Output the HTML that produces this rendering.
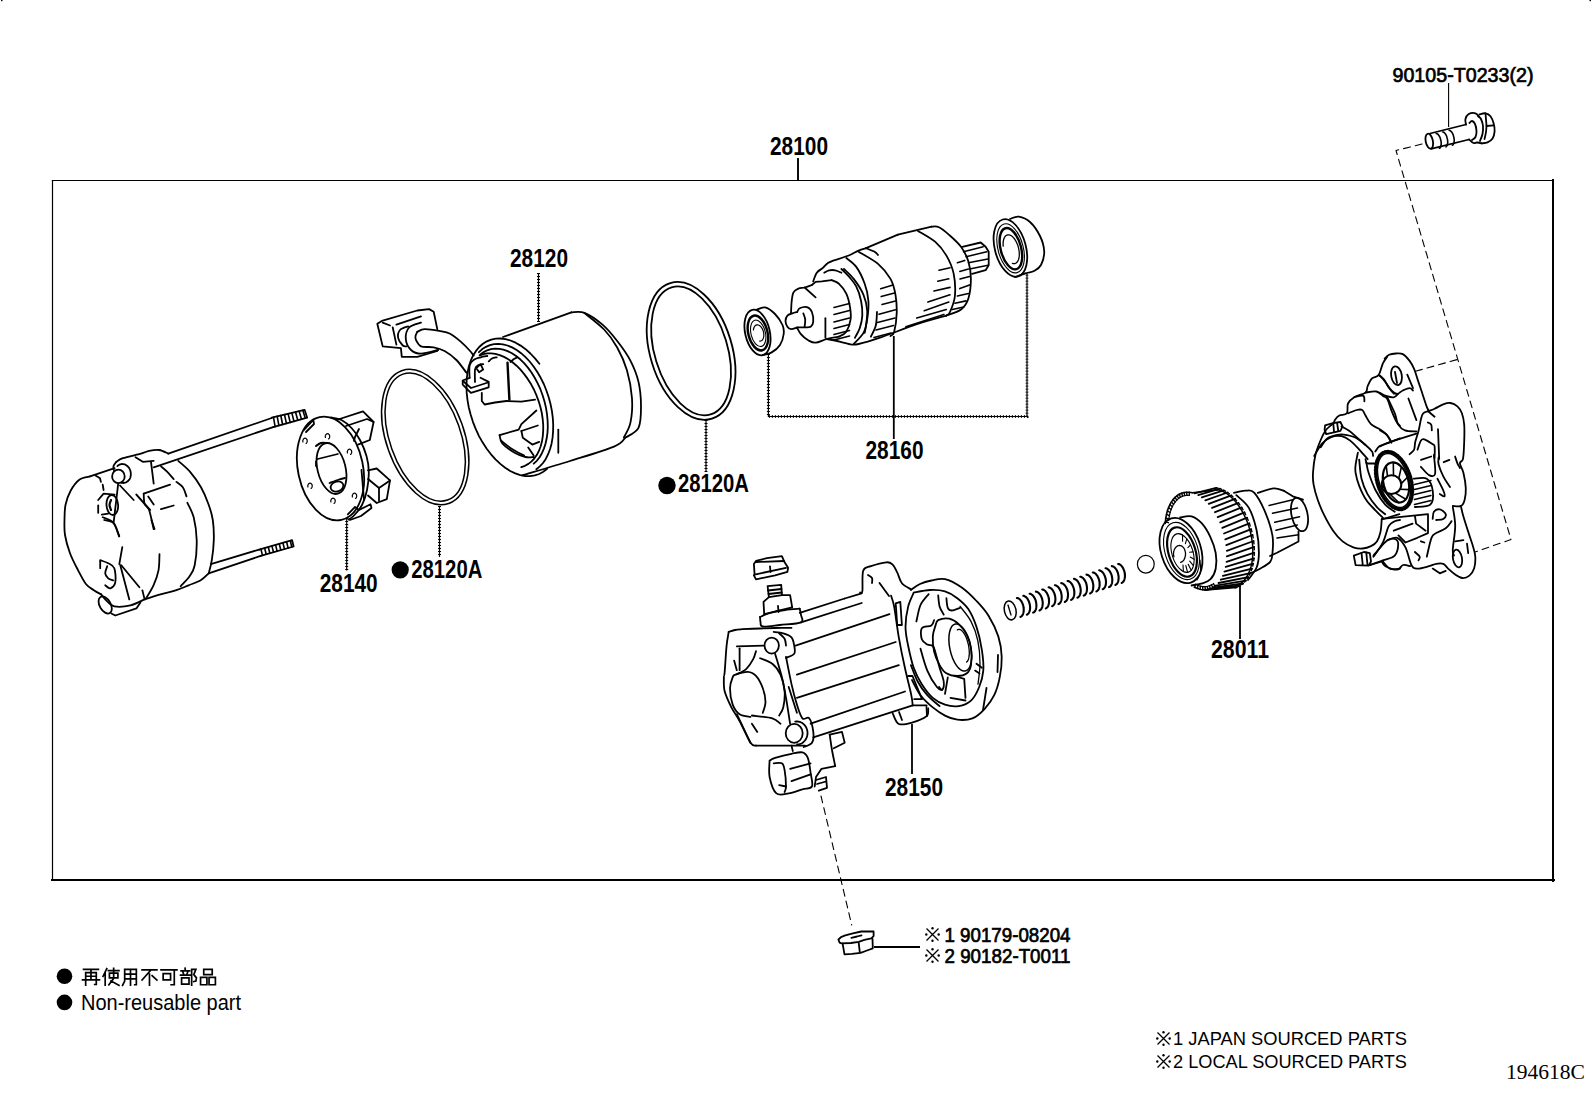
<!DOCTYPE html>
<html><head><meta charset="utf-8"><style>
html,body{margin:0;padding:0;background:#fff;}
svg{display:block;}
</style></head><body>
<svg width="1592" height="1099" viewBox="0 0 1592 1099">
<rect width="1592" height="1099" fill="#fff"/>
<g stroke="#000" fill="none" stroke-linecap="square">
<line x1="52.5" y1="180.5" x2="1553" y2="180.5" stroke-width="1.2"/>
<line x1="52.5" y1="180.5" x2="52.5" y2="880" stroke-width="1.2"/>
<line x1="1553" y1="180" x2="1553" y2="881" stroke-width="2"/>
<line x1="52" y1="880" x2="1554" y2="880" stroke-width="2"/>
</g>
<g stroke="#000" fill="none"><line x1="798" y1="158" x2="798" y2="180" stroke-width="1.9"/><path d="M538.5,273 L538.5,322" stroke-width="1.2" fill="none"/><path d="M538.5,273 L538.5,322" stroke-width="3" stroke-dasharray="0.9,2.1" fill="none"/><path d="M346.7,518 L346.7,570.5" stroke-width="1.2" fill="none"/><path d="M346.7,518 L346.7,570.5" stroke-width="3" stroke-dasharray="0.9,2.1" fill="none"/><path d="M439.5,506 L439.5,557" stroke-width="1.2" fill="none"/><path d="M439.5,506 L439.5,557" stroke-width="3" stroke-dasharray="0.9,2.1" fill="none"/><path d="M706,420 L706,472" stroke-width="1.2" fill="none"/><path d="M706,420 L706,472" stroke-width="3" stroke-dasharray="0.9,2.1" fill="none"/><line x1="1448.6" y1="83" x2="1448.6" y2="127" stroke-width="1.1"/><line x1="1240" y1="586" x2="1240" y2="639" stroke-width="1.8"/><line x1="912" y1="724" x2="912" y2="774" stroke-width="1.8"/><line x1="874" y1="947" x2="920" y2="947" stroke-width="1.8"/><path d="M768.4,354 L768.4,416.5 L1027,416.5 L1027,274" stroke-width="1.2" fill="none"/><path d="M768.4,354 L768.4,416.5 L1027,416.5 L1027,274" stroke-width="3" stroke-dasharray="0.9,2.1" fill="none"/><line x1="893.8" y1="336" x2="893.8" y2="439" stroke-width="1.8"/></g>
<g fill="#000"><text x="770" y="154.5" font-family="Liberation Sans" font-size="25.5" font-weight="bold" textLength="58" lengthAdjust="spacingAndGlyphs">28100</text><text x="510" y="267" font-family="Liberation Sans" font-size="25.5" font-weight="bold" textLength="58" lengthAdjust="spacingAndGlyphs">28120</text><text x="865.5" y="459.3" font-family="Liberation Sans" font-size="25.5" font-weight="bold" textLength="58" lengthAdjust="spacingAndGlyphs">28160</text><text x="319.7" y="592.4" font-family="Liberation Sans" font-size="25.5" font-weight="bold" textLength="58" lengthAdjust="spacingAndGlyphs">28140</text><text x="411.3" y="577.7" font-family="Liberation Sans" font-size="25.5" font-weight="bold" textLength="71" lengthAdjust="spacingAndGlyphs">28120A</text><text x="677.9" y="492" font-family="Liberation Sans" font-size="25.5" font-weight="bold" textLength="71" lengthAdjust="spacingAndGlyphs">28120A</text><text x="1211" y="657.8" font-family="Liberation Sans" font-size="25.5" font-weight="bold" textLength="58" lengthAdjust="spacingAndGlyphs">28011</text><text x="885" y="795.6" font-family="Liberation Sans" font-size="25.5" font-weight="bold" textLength="58" lengthAdjust="spacingAndGlyphs">28150</text><text x="1392.5" y="81.6" font-family="Liberation Sans" font-size="20.5" font-weight="normal" textLength="141" lengthAdjust="spacingAndGlyphs" stroke="#000" stroke-width="0.7">90105-T0233(2)</text><text x="944.5" y="941.6" font-family="Liberation Sans" font-size="20.5" font-weight="normal" textLength="126" lengthAdjust="spacingAndGlyphs" stroke="#000" stroke-width="0.7">1 90179-08204</text><text x="944.5" y="962.9" font-family="Liberation Sans" font-size="20.5" font-weight="normal" textLength="126" lengthAdjust="spacingAndGlyphs" stroke="#000" stroke-width="0.7">2 90182-T0011</text><text x="1173" y="1044.8" font-family="Liberation Sans" font-size="18" font-weight="normal" textLength="234" lengthAdjust="spacingAndGlyphs">1 JAPAN SOURCED PARTS</text><text x="1173" y="1067.7" font-family="Liberation Sans" font-size="18" font-weight="normal" textLength="234" lengthAdjust="spacingAndGlyphs">2 LOCAL SOURCED PARTS</text><text x="1506" y="1079" font-family="Liberation Serif" font-size="21" font-weight="normal" textLength="79" lengthAdjust="spacingAndGlyphs">194618C</text><text x="81" y="1009.6" font-family="Liberation Sans" font-size="21.5" font-weight="normal" textLength="160" lengthAdjust="spacingAndGlyphs">Non-reusable part</text></g>
<rect x="1" y="0" width="1.5" height="1.2" fill="#000"/><rect x="1589.5" y="0" width="1.5" height="1.2" fill="#000"/>
<g fill="#000">
<circle cx="400.2" cy="569.8" r="8.6"/>
<circle cx="667" cy="485.5" r="8.7"/>
<circle cx="64.5" cy="976.3" r="7.8"/>
<circle cx="64.5" cy="1002.4" r="7.8"/>
</g>
<g transform="translate(925,927)"><path d="M1.5,1.5 L13.5,13.5 M13.5,1.5 L1.5,13.5" stroke="#000" stroke-width="1.3" fill="none"/><circle cx="7.5" cy="1.3" r="1.2" fill="#000"/><circle cx="7.5" cy="13.7" r="1.2" fill="#000"/><circle cx="1.3" cy="7.5" r="1.2" fill="#000"/><circle cx="13.7" cy="7.5" r="1.2" fill="#000"/></g>
<g transform="translate(925,948)"><path d="M1.5,1.5 L13.5,13.5 M13.5,1.5 L1.5,13.5" stroke="#000" stroke-width="1.3" fill="none"/><circle cx="7.5" cy="1.3" r="1.2" fill="#000"/><circle cx="7.5" cy="13.7" r="1.2" fill="#000"/><circle cx="1.3" cy="7.5" r="1.2" fill="#000"/><circle cx="13.7" cy="7.5" r="1.2" fill="#000"/></g>
<g transform="translate(1156,1031)"><path d="M1.5,1.5 L13.5,13.5 M13.5,1.5 L1.5,13.5" stroke="#000" stroke-width="1.3" fill="none"/><circle cx="7.5" cy="1.3" r="1.2" fill="#000"/><circle cx="7.5" cy="13.7" r="1.2" fill="#000"/><circle cx="1.3" cy="7.5" r="1.2" fill="#000"/><circle cx="13.7" cy="7.5" r="1.2" fill="#000"/></g>
<g transform="translate(1156,1054)"><path d="M1.5,1.5 L13.5,13.5 M13.5,1.5 L1.5,13.5" stroke="#000" stroke-width="1.3" fill="none"/><circle cx="7.5" cy="1.3" r="1.2" fill="#000"/><circle cx="7.5" cy="13.7" r="1.2" fill="#000"/><circle cx="1.3" cy="7.5" r="1.2" fill="#000"/><circle cx="13.7" cy="7.5" r="1.2" fill="#000"/></g>
<path transform="translate(82.5,968.3) scale(1.06)" d="M1,1 L15,1 M3,15.8 L3,4 L13,4 L13,15.3 L11.5,15.3 M3,7.5 L13,7.5 M0,11 L16,11 M8,1 L8,11" fill="none" stroke="#000" stroke-width="1.60" stroke-linecap="square"/><path transform="translate(102,968.3) scale(1.06)" d="M4.5,0.3 L1,7.5 M3,4.5 L3,16 M6,2.2 L16,2.2 M11,0 L11,9 M7,4.5 L15,4.5 L15,9 L7,9 Z M11,9.5 L6.5,15.5 M8.5,12 L16,16" fill="none" stroke="#000" stroke-width="1.60" stroke-linecap="square"/><path transform="translate(121.5,968.3) scale(1.06)" d="M1,16 L3,12 L3,1 L14,1 L14,15.5 L12.5,15.5 M3,5.5 L14,5.5 M3,10 L14,10 M8.5,1 L8.5,16" fill="none" stroke="#000" stroke-width="1.60" stroke-linecap="square"/><path transform="translate(141,968.3) scale(1.06)" d="M1,1.5 L15,1.5 M9,2 L1,11 M8,5.5 L8,16 M10.5,7 L15,11" fill="none" stroke="#000" stroke-width="1.60" stroke-linecap="square"/><path transform="translate(160.5,968.3) scale(1.06)" d="M0.5,1.5 L15.5,1.5 M13,1.5 L13,15.5 L10,15.5 M2.5,5 L9.5,5 L9.5,11 L2.5,11 Z" fill="none" stroke="#000" stroke-width="1.60" stroke-linecap="square"/><path transform="translate(180,968.3) scale(1.06)" d="M4.8,0 L5,2 M1,2.5 L9,2.5 M2.8,3.8 L3.6,6 M7.2,3.8 L6.4,6 M0.5,6.5 L9.5,6.5 M1.5,9 L8.5,9 L8.5,15 L1.5,15 Z M11,16 L11,1 L15,1 L13,6 L15.5,9 L15,12 L13,12.5" fill="none" stroke="#000" stroke-width="1.60" stroke-linecap="square"/><path transform="translate(199.5,968.3) scale(1.06)" d="M4,1 L12,1 L12,6 L4,6 Z M1,8.5 L7,8.5 L7,15.5 L1,15.5 Z M9,8.5 L15,8.5 L15,15.5 L9,15.5 Z" fill="none" stroke="#000" stroke-width="1.60" stroke-linecap="square"/>
<g stroke="#000" fill="none" stroke-width="1.8" stroke-linejoin="round" stroke-linecap="round">
<ellipse cx="1429.3" cy="141.2" rx="3.6" ry="7.6" fill="none" transform="rotate(-12 1429.3 141.2)"/>
<line x1="1430" y1="133.5" x2="1466" y2="124.5"/>
<line x1="1431" y1="148.8" x2="1469" y2="139.5"/>
<path d="M1436.2,133.5 L1436.6,133.6 L1437,133.7 L1437.4,133.9 L1437.7,134.2 L1438.1,134.5 L1438.5,135 L1438.9,135.5 L1439.2,136 L1439.6,136.6 L1439.9,137.3 L1440.2,138 L1440.4,138.7 L1440.6,139.5 L1440.8,140.3 L1441,141.1 L1441.1,141.9 L1441.2,142.7 L1441.2,143.4 L1441.2,144.1 L1441.1,144.8 L1441,145.5 L1440.9,146.1 L1440.7,146.7 L1440.5,147.1 L1440.3,147.6 L1440,147.9 L1439.7,148.2 L1439.4,148.3" fill="none" stroke-width="1.6"/>
<path d="M1442.7,132 L1443.1,132 L1443.5,132.1 L1443.9,132.3 L1444.2,132.6 L1444.6,133 L1445,133.4 L1445.4,133.9 L1445.7,134.5 L1446.1,135.1 L1446.4,135.7 L1446.7,136.4 L1446.9,137.2 L1447.1,138 L1447.3,138.7 L1447.5,139.5 L1447.6,140.3 L1447.7,141.1 L1447.7,141.9 L1447.7,142.6 L1447.6,143.3 L1447.5,143.9 L1447.4,144.5 L1447.2,145.1 L1447,145.6 L1446.8,146 L1446.5,146.3 L1446.2,146.6 L1445.9,146.8" fill="none" stroke-width="1.6"/>
<path d="M1449.2,130.4 L1449.6,130.4 L1450,130.6 L1450.4,130.8 L1450.7,131.1 L1451.1,131.4 L1451.5,131.8 L1451.9,132.3 L1452.2,132.9 L1452.6,133.5 L1452.9,134.2 L1453.2,134.9 L1453.4,135.6 L1453.6,136.4 L1453.8,137.2 L1454,138 L1454.1,138.8 L1454.2,139.5 L1454.2,140.3 L1454.2,141 L1454.1,141.7 L1454,142.4 L1453.9,143 L1453.7,143.5 L1453.5,144 L1453.3,144.4 L1453,144.8 L1452.7,145 L1452.4,145.2" fill="none" stroke-width="1.6"/>
<path d="M1466,124.5 C1465.9,123.6 1465,121 1465.4,119.3 C1465.8,117.6 1466.7,115.3 1468.4,114.3 C1470.1,113.3 1473.7,112.8 1475.5,113.3 C1477.3,113.8 1478.8,116.6 1479.5,117.3" fill="none"/>
<path d="M1469.4,123 C1469.8,122.7 1471.1,120.8 1472,121 C1472.9,121.2 1474.2,122.3 1475,124 C1475.8,125.7 1476.4,128.8 1476.5,131 C1476.6,133.2 1476.2,135.5 1475.5,137 C1474.8,138.5 1472.6,139.5 1472,140" fill="none"/>
<path d="M1469,139.5 C1469.8,140.1 1472.2,142.5 1473.5,143 C1474.8,143.5 1475.7,142.4 1477,142.5 C1478.3,142.6 1480.8,143.2 1481.5,143.4" fill="none"/>
<path d="M1479.5,114.3 C1480.5,114.1 1483.7,113 1485.5,113.3 C1487.3,113.6 1489.2,114.6 1490.5,116.3 C1491.8,118 1492.9,120.8 1493.6,123.3 C1494.3,125.8 1494.8,128.9 1494.6,131.4 C1494.4,133.9 1493.8,136.6 1492.6,138.4 C1491.4,140.2 1489.3,141.6 1487.5,142.4 C1485.7,143.2 1482.5,143.2 1481.5,143.4" fill="none"/>
<line x1="1485.5" y1="113.5" x2="1486.5" y2="125.5"/>
<line x1="1486.5" y1="126" x2="1493.6" y2="125.4"/>
<path d="M1486.5,126 C1486.4,127 1486.3,129.8 1486,132 C1485.7,134.2 1484.8,137.8 1484.5,139" fill="none"/>
<path d="M1478,116 C1478.5,116.5 1480.2,117.3 1481,119 C1481.8,120.7 1482.8,123.5 1483,126 C1483.2,128.5 1483,131.5 1482.5,134 C1482,136.5 1480.4,139.8 1480,141" fill="none"/>
<path d="M1422,144 L1396,150.5 L1511,539.5 L1475,552" stroke-dasharray="7,5" stroke-width="1.1"/>
<path d="M1415.5,371.3 L1458,359.3" stroke-dasharray="7,5" stroke-width="1.1"/>
<ellipse cx="425.2" cy="437.1" rx="39" ry="70.4" fill="none" transform="rotate(-19.5 425.2 437.1)" stroke-width="1.5"/>
<ellipse cx="425.2" cy="437.1" rx="35.4" ry="66.8" fill="none" transform="rotate(-19.5 425.2 437.1)" stroke-width="1.5"/>
<ellipse cx="691.1" cy="350.9" rx="40.9" ry="70.9" fill="none" transform="rotate(-17.1 691.1 350.9)"/>
<ellipse cx="691.1" cy="350.9" rx="36.4" ry="66.4" fill="none" transform="rotate(-17.1 691.1 350.9)"/>
<ellipse cx="757.5" cy="332.5" rx="12.3" ry="23.2" fill="none" transform="rotate(-13 757.5 332.5)"/>
<path d="M756.4,309.8 C757.9,309.4 762,306.7 765.1,307.4 C768.2,308.1 772.1,311.1 775,314 C777.9,316.9 781,321.7 782.5,325 C784,328.3 784.1,330.7 783.7,334 C783.3,337.3 782,341.9 780,345 C778,348.1 774.6,350.7 771.7,352.4 C768.9,354.1 764.4,354.7 762.9,355.2" fill="none"/>
<ellipse cx="757.9" cy="333" rx="9.6" ry="17.8" fill="none" transform="rotate(-14 757.9 333)" stroke-width="2.4"/>
<ellipse cx="758.2" cy="333.3" rx="7.2" ry="13.5" fill="none" transform="rotate(-14 758.2 333.3)" stroke-width="1.1"/>
<path d="M753.4,330 L753.5,329.2 L753.7,328.5 L753.9,327.8 L754.1,327.2 L754.5,326.6 L754.8,326.1 L755.2,325.7 L755.7,325.3 L756.2,325.1 L756.7,324.9 L757.2,324.9 L757.8,324.9 L758.3,325 L758.9,325.2 L759.4,325.5 L760,325.9 L760.5,326.3 L761,326.9 L761.5,327.5 L761.9,328.1 L762.3,328.9 L762.7,329.6 L763,330.4 L763.3,331.3 L763.5,332.1 L763.7,333 L763.8,333.9 L763.8,334.7 L763.8,335.6 L763.8,336.4 L763.6,337.1 L763.4,337.9 L763.2,338.5 L762.9,339.1 L762.6,339.7 L762.2,340.1 L761.8,340.5 L761.3,340.8 L760.8,341 L760.3,341.1 L759.7,341.1" fill="none" stroke-width="1.2"/>
<ellipse cx="1010.4" cy="248" rx="15.5" ry="29.5" fill="none" transform="rotate(-15 1010.4 248)"/>
<path d="M1010.2,218.9 C1011.6,218.5 1015.4,216.1 1018.7,216.6 C1022,217.1 1026.5,218.8 1030,222 C1033.5,225.2 1037.6,231.1 1040,236 C1042.4,240.9 1044,246.6 1044.2,251.4 C1044.4,256.2 1042.7,261.7 1041,265 C1039.3,268.3 1036.4,269.6 1034,271 C1031.6,272.4 1029.6,272.1 1026.4,273.1 C1023.2,274.1 1016.7,276.4 1014.8,277" fill="none"/>
<ellipse cx="1010.6" cy="248.3" rx="12.6" ry="25.2" fill="none" transform="rotate(-15 1010.6 248.3)" stroke-width="1.1"/>
<ellipse cx="1010.9" cy="248.7" rx="10.2" ry="21.2" fill="none" transform="rotate(-15 1010.9 248.7)" stroke-width="2.4"/>
<path d="M1003.2,246.1 L1003.1,244.7 L1003.1,243.2 L1003.2,241.9 L1003.4,240.6 L1003.7,239.5 L1004,238.4 L1004.5,237.5 L1005,236.7 L1005.5,236 L1006.2,235.5 L1006.9,235.1 L1007.6,234.8 L1008.4,234.8 L1009.2,234.9 L1010,235.1 L1010.9,235.5 L1011.7,236.1 L1012.6,236.8 L1013.4,237.6 L1014.2,238.5 L1015,239.6 L1015.7,240.8 L1016.4,242.1 L1017,243.4 L1017.6,244.8 L1018.1,246.3 L1018.5,247.8 L1018.8,249.3 L1019.1,250.8 L1019.2,252.3 L1019.3,253.7 L1019.3,255.2 L1019.2,256.5 L1019,257.8 L1018.7,258.9 L1018.4,260 L1017.9,260.9 L1017.4,261.7 L1016.9,262.4 L1016.2,262.9 L1015.5,263.3 L1014.8,263.6 L1014,263.6 L1013.2,263.5 L1012.4,263.3" fill="none" stroke-width="1.3"/>
<ellipse cx="1010.2" cy="610.4" rx="5.8" ry="9.6" fill="none" transform="rotate(-12 1010.2 610.4)" stroke-width="1.5"/>
<line x1="1008" y1="605" x2="1011" y2="615" stroke-width="1.3"/>
<path d="M1016.9,598 L1017.6,598.1 L1018.2,598.3 L1018.8,598.6 L1019.4,599 L1020,599.5 L1020.5,600.2 L1021.1,600.9 L1021.6,601.6 L1022,602.5 L1022.4,603.3 L1022.8,604.3 L1023.1,605.3 L1023.4,606.3 L1023.5,607.3 L1023.7,608.3 L1023.7,609.3 L1023.7,610.3 L1023.7,611.3 L1023.5,612.2 L1023.3,613 L1023.1,613.8 L1022.8,614.6 L1022.4,615.2 L1022,615.8 L1021.5,616.2 L1021,616.6 L1020.5,616.9" fill="none" stroke-width="2.1"/>
<path d="M1023.3,595.8 L1023.9,595.9 L1024.5,596.2 L1025.1,596.5 L1025.7,596.9 L1026.3,597.4 L1026.9,598 L1027.4,598.7 L1027.9,599.5 L1028.3,600.3 L1028.8,601.2 L1029.1,602.2 L1029.4,603.1 L1029.7,604.1 L1029.9,605.2 L1030,606.2 L1030.1,607.2 L1030.1,608.2 L1030,609.1 L1029.9,610 L1029.7,610.9 L1029.4,611.7 L1029.1,612.4 L1028.7,613.1 L1028.3,613.6 L1027.8,614.1 L1027.3,614.5 L1026.8,614.7" fill="none" stroke-width="2.1"/>
<path d="M1029.6,593.7 L1030.2,593.8 L1030.8,594 L1031.4,594.4 L1032,594.8 L1032.6,595.3 L1033.2,595.9 L1033.7,596.6 L1034.2,597.4 L1034.7,598.2 L1035.1,599.1 L1035.5,600 L1035.8,601 L1036,602 L1036.2,603 L1036.3,604 L1036.4,605.1 L1036.4,606 L1036.3,607 L1036.2,607.9 L1036,608.8 L1035.7,609.6 L1035.4,610.3 L1035.1,611 L1034.6,611.5 L1034.2,612 L1033.7,612.3 L1033.1,612.6" fill="none" stroke-width="2.1"/>
<path d="M1035.9,591.6 L1036.5,591.7 L1037.1,591.9 L1037.8,592.2 L1038.4,592.7 L1038.9,593.2 L1039.5,593.8 L1040,594.5 L1040.5,595.2 L1041,596.1 L1041.4,597 L1041.8,597.9 L1042.1,598.9 L1042.3,599.9 L1042.5,600.9 L1042.7,601.9 L1042.7,602.9 L1042.7,603.9 L1042.6,604.9 L1042.5,605.8 L1042.3,606.7 L1042.1,607.5 L1041.7,608.2 L1041.4,608.8 L1041,609.4 L1040.5,609.8 L1040,610.2 L1039.5,610.5" fill="none" stroke-width="2.1"/>
<path d="M1042.2,589.5 L1042.9,589.6 L1043.5,589.8 L1044.1,590.1 L1044.7,590.5 L1045.3,591 L1045.8,591.7 L1046.4,592.4 L1046.9,593.1 L1047.3,594 L1047.7,594.8 L1048.1,595.8 L1048.4,596.8 L1048.7,597.8 L1048.8,598.8 L1049,599.8 L1049,600.8 L1049,601.8 L1049,602.8 L1048.8,603.7 L1048.6,604.5 L1048.4,605.3 L1048.1,606.1 L1047.7,606.7 L1047.3,607.3 L1046.8,607.7 L1046.3,608.1 L1045.8,608.4" fill="none" stroke-width="2.1"/>
<path d="M1048.6,587.3 L1049.2,587.4 L1049.8,587.7 L1050.4,588 L1051,588.4 L1051.6,588.9 L1052.2,589.5 L1052.7,590.2 L1053.2,591 L1053.6,591.8 L1054.1,592.7 L1054.4,593.7 L1054.7,594.6 L1055,595.6 L1055.2,596.7 L1055.3,597.7 L1055.4,598.7 L1055.4,599.7 L1055.3,600.6 L1055.2,601.5 L1055,602.4 L1054.7,603.2 L1054.4,603.9 L1054,604.6 L1053.6,605.1 L1053.1,605.6 L1052.6,606 L1052.1,606.2" fill="none" stroke-width="2.1"/>
<path d="M1054.9,585.2 L1055.5,585.3 L1056.1,585.5 L1056.7,585.9 L1057.3,586.3 L1057.9,586.8 L1058.5,587.4 L1059,588.1 L1059.5,588.9 L1060,589.7 L1060.4,590.6 L1060.8,591.5 L1061.1,592.5 L1061.3,593.5 L1061.5,594.5 L1061.6,595.5 L1061.7,596.6 L1061.7,597.5 L1061.6,598.5 L1061.5,599.4 L1061.3,600.3 L1061,601.1 L1060.7,601.8 L1060.4,602.5 L1059.9,603 L1059.5,603.5 L1059,603.8 L1058.4,604.1" fill="none" stroke-width="2.1"/>
<path d="M1061.2,583.1 L1061.8,583.2 L1062.4,583.4 L1063.1,583.7 L1063.7,584.2 L1064.2,584.7 L1064.8,585.3 L1065.3,586 L1065.8,586.7 L1066.3,587.6 L1066.7,588.5 L1067.1,589.4 L1067.4,590.4 L1067.6,591.4 L1067.8,592.4 L1068,593.4 L1068,594.4 L1068,595.4 L1067.9,596.4 L1067.8,597.3 L1067.6,598.2 L1067.4,599 L1067,599.7 L1066.7,600.3 L1066.3,600.9 L1065.8,601.3 L1065.3,601.7 L1064.8,602" fill="none" stroke-width="2.1"/>
<path d="M1067.5,581 L1068.2,581.1 L1068.8,581.3 L1069.4,581.6 L1070,582 L1070.6,582.5 L1071.1,583.2 L1071.7,583.9 L1072.2,584.6 L1072.6,585.5 L1073,586.3 L1073.4,587.3 L1073.7,588.3 L1074,589.3 L1074.1,590.3 L1074.3,591.3 L1074.3,592.3 L1074.3,593.3 L1074.3,594.3 L1074.1,595.2 L1073.9,596 L1073.7,596.8 L1073.4,597.6 L1073,598.2 L1072.6,598.8 L1072.1,599.2 L1071.6,599.6 L1071.1,599.9" fill="none" stroke-width="2.1"/>
<path d="M1073.9,578.8 L1074.5,578.9 L1075.1,579.2 L1075.7,579.5 L1076.3,579.9 L1076.9,580.4 L1077.5,581 L1078,581.7 L1078.5,582.5 L1078.9,583.3 L1079.4,584.2 L1079.7,585.2 L1080,586.1 L1080.3,587.1 L1080.5,588.2 L1080.6,589.2 L1080.7,590.2 L1080.7,591.2 L1080.6,592.1 L1080.5,593 L1080.3,593.9 L1080,594.7 L1079.7,595.4 L1079.3,596.1 L1078.9,596.6 L1078.4,597.1 L1077.9,597.5 L1077.4,597.7" fill="none" stroke-width="2.1"/>
<path d="M1080.2,576.7 L1080.8,576.8 L1081.4,577 L1082,577.4 L1082.6,577.8 L1083.2,578.3 L1083.8,578.9 L1084.3,579.6 L1084.8,580.4 L1085.3,581.2 L1085.7,582.1 L1086.1,583 L1086.4,584 L1086.6,585 L1086.8,586 L1086.9,587 L1087,588.1 L1087,589 L1086.9,590 L1086.8,590.9 L1086.6,591.8 L1086.3,592.6 L1086,593.3 L1085.7,594 L1085.2,594.5 L1084.8,595 L1084.3,595.3 L1083.7,595.6" fill="none" stroke-width="2.1"/>
<path d="M1086.5,574.6 L1087.1,574.7 L1087.7,574.9 L1088.4,575.2 L1089,575.7 L1089.5,576.2 L1090.1,576.8 L1090.6,577.5 L1091.1,578.2 L1091.6,579.1 L1092,580 L1092.4,580.9 L1092.7,581.9 L1092.9,582.9 L1093.1,583.9 L1093.3,584.9 L1093.3,585.9 L1093.3,586.9 L1093.2,587.9 L1093.1,588.8 L1092.9,589.7 L1092.7,590.5 L1092.3,591.2 L1092,591.8 L1091.6,592.4 L1091.1,592.8 L1090.6,593.2 L1090.1,593.5" fill="none" stroke-width="2.1"/>
<path d="M1092.8,572.5 L1093.5,572.6 L1094.1,572.8 L1094.7,573.1 L1095.3,573.5 L1095.9,574 L1096.4,574.7 L1097,575.4 L1097.5,576.1 L1097.9,577 L1098.3,577.8 L1098.7,578.8 L1099,579.8 L1099.3,580.8 L1099.4,581.8 L1099.6,582.8 L1099.6,583.8 L1099.6,584.8 L1099.6,585.8 L1099.4,586.7 L1099.2,587.5 L1099,588.3 L1098.7,589.1 L1098.3,589.7 L1097.9,590.3 L1097.4,590.7 L1096.9,591.1 L1096.4,591.4" fill="none" stroke-width="2.1"/>
<path d="M1099.2,570.3 L1099.8,570.4 L1100.4,570.7 L1101,571 L1101.6,571.4 L1102.2,571.9 L1102.8,572.5 L1103.3,573.2 L1103.8,574 L1104.2,574.8 L1104.7,575.7 L1105,576.7 L1105.3,577.6 L1105.6,578.6 L1105.8,579.7 L1105.9,580.7 L1106,581.7 L1106,582.7 L1105.9,583.6 L1105.8,584.5 L1105.6,585.4 L1105.3,586.2 L1105,586.9 L1104.6,587.6 L1104.2,588.1 L1103.7,588.6 L1103.2,589 L1102.7,589.2" fill="none" stroke-width="2.1"/>
<path d="M1105.5,568.2 L1106.1,568.3 L1106.7,568.5 L1107.3,568.9 L1107.9,569.3 L1108.5,569.8 L1109.1,570.4 L1109.6,571.1 L1110.1,571.9 L1110.6,572.7 L1111,573.6 L1111.4,574.5 L1111.7,575.5 L1111.9,576.5 L1112.1,577.5 L1112.2,578.5 L1112.3,579.6 L1112.3,580.5 L1112.2,581.5 L1112.1,582.4 L1111.9,583.3 L1111.6,584.1 L1111.3,584.8 L1111,585.5 L1110.5,586 L1110.1,586.5 L1109.6,586.8 L1109,587.1" fill="none" stroke-width="2.1"/>
<path d="M1111.8,566.1 L1112.4,566.2 L1113,566.4 L1113.7,566.7 L1114.3,567.2 L1114.8,567.7 L1115.4,568.3 L1115.9,569 L1116.4,569.7 L1116.9,570.6 L1117.3,571.5 L1117.7,572.4 L1118,573.4 L1118.2,574.4 L1118.4,575.4 L1118.6,576.4 L1118.6,577.4 L1118.6,578.4 L1118.5,579.4 L1118.4,580.3 L1118.2,581.2 L1118,582 L1117.6,582.7 L1117.3,583.3 L1116.9,583.9 L1116.4,584.3 L1115.9,584.7 L1115.4,585" fill="none" stroke-width="2.1"/>
<path d="M1118.1,564 L1118.8,564.1 L1119.4,564.3 L1120,564.6 L1120.6,565 L1121.2,565.5 L1121.7,566.2 L1122.3,566.9 L1122.8,567.6 L1123.2,568.5 L1123.6,569.3 L1124,570.3 L1124.3,571.3 L1124.6,572.3 L1124.7,573.3 L1124.9,574.3 L1124.9,575.3 L1124.9,576.3 L1124.9,577.3 L1124.7,578.2 L1124.5,579 L1124.3,579.8 L1124,580.6 L1123.6,581.2 L1123.2,581.8 L1122.7,582.2 L1122.2,582.6 L1121.7,582.9" fill="none" stroke-width="2.1"/>
<ellipse cx="1145.8" cy="564.2" rx="8.4" ry="8.9" fill="none" stroke-width="1.2"/>
<path d="M839.6,942.6 L838.4,939.5 L841.5,936.8 L845.3,935.3 L852.9,933.4 L861.3,931.5 L873.6,931.5 L873.6,936.1 L871.3,938.3 L864.4,939.9 L858.7,941.8 L851,943 L841.5,943.3 L839.6,942.6" fill="none"/>
<path d="M851.4,937.8 L857,936.5 L861.5,935.3" fill="none"/>
<path d="M842.6,943.7 L844.5,954.4 L852,953.8 L860.6,952.9 L867,950.5 L872.8,948.3 L872.5,939" fill="none"/>
<line x1="858.7" y1="942.9" x2="859.8" y2="952.1"/>
<path d="M821,796 L851.7,925" stroke-dasharray="7,5" stroke-width="1.1"/>
<line x1="503" y1="337" x2="571.4" y2="312.3"/>
<path d="M522.2,475.3 C530.2,472.9 554.7,465.8 570,461 C585.3,456.2 604.8,450.5 614,446.6 C623.2,442.7 623.5,439.1 625.4,437.6" fill="none"/>
<path d="M571.4,312.3 C573.6,312.4 579.3,310.8 584.5,312.8 C589.7,314.9 597,319.9 602.5,324.6 C608,329.3 612.6,335 617.2,341 C621.9,347 626.9,353.8 630.4,360.6 C633.9,367.4 636.7,374.2 638.5,381.9 C640.3,389.5 641,398.9 641,406.5 C641,414.1 641.1,422.6 638.5,427.8 C635.9,433 627.6,436 625.4,437.6" fill="none"/>
<path d="M584.5,313.1 C587.8,315.8 598.6,323.8 604.1,329.5 C609.6,335.2 613.4,340.7 617.2,347.5 C621,354.3 624.5,361.9 627,370.4 C629.5,378.9 631.4,389.6 632,398.3 C632.6,407.1 631.8,416.3 630.4,422.9 C629,429.4 624.9,435.2 623.8,437.6" fill="none"/>
<path d="M539.4,363.8 L535,358.4 L530.4,353.5 L525.6,349.2 L520.6,345.6 L515.6,342.7 L510.5,340.5 L505.5,339.1 L500.5,338.5 L495.8,338.7 L491.2,339.6 L486.9,341.3 L482.9,343.8 L479.2,347 L476,350.9 L473.1,355.4 L470.8,360.6 L468.9,366.2 L467.6,372.4 L466.7,378.9 L466.5,385.8 L466.7,392.9 L467.5,400.1 L468.8,407.5 L470.7,414.8 L473,422.1 L475.8,429.2 L479,436.1 L482.7,442.6 L486.7,448.7 L491,454.3 L495.5,459.4 L500.3,463.9 L505.2,467.8 L510.2,471 L515.3,473.4 L520.3,475.1 L525.3,476 L530.1,476.1 L534.8,475.4 L539.2,474 L543.3,471.8 L547.1,468.8" fill="none"/>
<line x1="558.3" y1="429.6" x2="558.3" y2="452.8"/>
<path d="M478.9,352.2 L482.3,349.1 L486,346.8 L489.9,345.1 L494.1,344.1 L498.5,343.8 L502.9,344.3 L507.5,345.5 L512.1,347.4 L516.7,350 L521.1,353.2 L525.5,357.1 L529.7,361.5 L533.6,366.5 L537.3,372 L540.7,377.8 L543.8,384 L546.4,390.5 L548.7,397.2 L550.5,404 L551.9,410.9 L552.8,417.8 L553.2,424.5 L553.1,431.1 L552.6,437.4 L551.6,443.4 L550.1,449 L548.1,454.2 L545.8,458.9 L543,463 L539.8,466.4 L536.4,469.3" fill="none"/>
<path d="M480.3,354.5 L483.7,352.1 L487.2,350.3 L491,349.1 L495,348.6 L499.2,348.8 L503.4,349.6 L507.6,351.1 L511.9,353.3 L516.1,356 L520.2,359.3 L524.1,363.2 L527.9,367.6 L531.5,372.5 L534.7,377.7 L537.7,383.3 L540.4,389.2 L542.6,395.3 L544.5,401.5 L546,407.9 L547,414.2 L547.6,420.5 L547.8,426.6 L547.5,432.6 L546.7,438.3 L545.5,443.7 L543.9,448.6 L541.9,453.2 L539.6,457.2 L536.8,460.8 L533.7,463.7" fill="none"/>
<path d="M479.6,355.4 L483.3,354.1 L487.2,353.4 L491.3,353.3 L495.4,353.9 L499.7,355.1 L504,356.9 L508.3,359.3 L512.5,362.2 L516.6,365.7 L520.5,369.7 L524.2,374.1 L527.7,378.9 L531,384.1 L533.9,389.5 L536.4,395.2 L538.6,401.1 L540.4,407 L541.8,413 L542.7,419 L543.2,424.9 L543.2,430.6 L542.8,436.1 L542,441.3 L540.7,446.2 L539,450.7 L536.9,454.8 L534.4,458.3 L531.6,461.4 L528.4,463.9 L525,465.8 L521.3,467.1" fill="none"/>
<path d="M481.8,392.8 L481.8,401 L484.6,404.5 L495,402.5 L506.4,401 L521.4,401.7 L535.1,399.6" fill="none"/>
<line x1="507.5" y1="362.8" x2="509.4" y2="399.6" stroke-width="2.4"/>
<path d="M510.5,362 C511.1,361.5 512.9,359.8 514,359 C515.1,358.2 516.5,357.8 517,357.5" fill="none"/>
<path d="M488.7,361.4 C489.2,360.9 490.6,359.2 492,358.5 C493.4,357.8 496,357.5 496.8,357.3" fill="none"/>
<path d="M499.6,435.1 L518.7,429.6 L521.4,424.2 L536.4,410.5" fill="none"/>
<path d="M499.6,435.1 C500.1,436.5 499.8,440.4 502.3,443.3 C504.8,446.2 510.7,450.5 514.6,452.8 C518.5,455.1 522.3,456.3 525.5,457 C528.7,457.7 532.3,457 533.7,457" fill="none"/>
<path d="M500.9,440.5 C502.8,441.9 508.1,446.5 512,449 C515.9,451.5 522.1,454.5 524.1,455.6" fill="none"/>
<path d="M521.4,431 L537.8,425.5" fill="none"/>
<path d="M521.4,431 L522.8,437.8 L532.3,444.6 L539.2,441.9" fill="none"/>
<path d="M528.2,447.4 L533.7,455.6" fill="none"/>
<path d="M469.6,377.8 L462.7,380.5 L462.7,384.6 L470.9,392.8 L488.7,387.3 L488.7,381.9 L480.5,377.8" fill="none"/>
<path d="M463.5,381.5 L471,388 L488,382.5" fill="none"/>
<path d="M469.6,377.8 C469.6,375.8 468.9,368.5 469.6,365.5 C470.3,362.5 471.8,361.4 473.6,360 C475.4,358.6 478.2,358 480.5,357.3 C482.8,356.6 486.2,356.2 487.3,356" fill="none"/>
<path d="M475,381.9 C475,379.8 474.6,372.3 475,369.6 C475.4,366.9 476.3,366.4 477.7,365.5 C479.1,364.6 482.3,364.3 483.2,364.1" fill="none"/>
<path d="M476.4,368.2 L480.5,364.1 L483.2,369.6 L479.1,372.3 L476.4,368.2" fill="none"/>
<path d="M417.3,331.8 C418.5,331.4 421,329.2 424.6,329.1 C428.2,329 434.9,330.1 439.2,330.9 C443.4,331.7 446.5,331.9 450.1,333.7 C453.7,335.5 457.7,339 461,341.9 C464.3,344.8 468,348.7 470.1,351 C472.2,353.3 473.1,354.8 473.7,355.5" fill="none"/>
<path d="M417.3,331.8 C417,332.5 415.7,334.6 415.5,336 C415.3,337.4 415.1,338.3 416,340 C416.9,341.7 418.1,345.2 421,346.4 C423.9,347.6 429.8,346.5 433.7,347.3 C437.6,348.1 440.8,348.9 444.6,351 C448.4,353.1 452.8,356.4 456.4,360 C460,363.6 464.8,370.7 466.5,372.8" fill="none"/>
<path d="M437.3,329.1 L433.7,311.8 L429.1,309.1 L417.3,310.5 L381.8,320.9 L377.3,323.7 L382.7,346.4 L400.9,348.2 L401.8,356.9 L417.3,356.9 L437.3,351" fill="none"/>
<path d="M382.7,322.7 L390,325.5" fill="none"/>
<path d="M396.4,324.6 L421,316.4" fill="none"/>
<path d="M392.7,327.3 L396.4,344.6" fill="none"/>
<path d="M408.2,326.4 C406.8,327 401.7,328 400,330 C398.3,332 397.7,335.6 398.2,338.2 C398.7,340.8 401.4,344.1 402.8,345.5 C404.2,346.9 405.8,346.2 406.4,346.4" fill="none"/>
<path d="M421,322.7 C419,323.5 411.6,324.8 409.1,327.5 C406.6,330.2 405.5,335.4 405.8,339.1 C406.1,342.9 408.5,347.6 411,350 C413.5,352.4 416.5,353.7 421,353.7 C425.5,353.7 435.3,350.6 438.2,350" fill="none"/>
<path d="M90,476.4 C88.3,476.9 82.8,477.1 79.6,479.5 C76.3,481.9 72.8,486.8 70.5,491 C68.2,495.2 66.5,500.2 65.5,505 C64.5,509.8 64.6,515 64.5,520 C64.4,525 64.1,529.5 65,535 C65.9,540.5 67.8,547.3 70,553.2 C72.2,559.1 75.4,565.1 78.1,570.3 C80.8,575.5 83.4,580.9 86.1,584.3 C88.8,587.6 91.7,588.7 94.2,590.4 C96.7,592.1 100,593.7 101.2,594.4" fill="none"/>
<line x1="90" y1="476.4" x2="114.6" y2="468.2"/>
<ellipse cx="105.2" cy="605" rx="5.5" ry="9.3" fill="none" transform="rotate(-30 105.2 605)"/>
<path d="M101.2,594.4 C102.2,595.6 105,599.4 107.2,601.4 C109.4,603.4 110.4,605.7 114.3,606.4 C118.2,607.1 125.4,606.6 130.4,605.4 C135.4,604.2 142.1,600.4 144.4,599.4" fill="none"/>
<path d="M111.3,613.5 L115.3,615.5 L136.4,608.4 L140.4,602.4" fill="none"/>
<path d="M144.4,599.4 C147.1,598.6 155.3,595.9 160.5,594.4 C165.7,592.9 170.9,591.9 175.6,590.4 C180.3,588.9 184.4,587 188.6,585.3 C192.8,583.6 197.3,582.3 200.7,580.3 C204,578.3 207.4,574.5 208.7,573.3" fill="none"/>
<path d="M178.3,460.9 C180.3,462.7 186.3,467.4 190.1,471.8 C193.9,476.2 198,482 201,487.3 C204,492.6 206.3,498.2 208.3,503.7 C210.3,509.1 211.9,513.9 212.8,520 C213.7,526.1 214,533.4 213.8,540.1 C213.6,546.8 212.7,554.7 211.8,560.2 C211,565.7 209.2,571.1 208.7,573.3" fill="none"/>
<path d="M176.4,481.9 C177.5,482.8 181.1,484.9 182.8,487.3 C184.5,489.7 185.9,494.9 186.5,496.4" fill="none"/>
<path d="M187.4,502.8 C188.4,505.2 192.1,511.1 193.7,517.3 C195.2,523.5 196.5,532.1 196.7,540.1 C196.9,548.1 195.9,559.2 194.7,565.2 C193.5,571.2 191.9,572.8 189.6,576.3 C187.2,579.8 182.1,584.6 180.6,586.3" fill="none"/>
<path d="M161,466.4 C162.1,467.3 165.2,469.7 167.3,471.8 C169.4,473.9 172.6,477.9 173.7,479.1" fill="none"/>
<path d="M116.4,461.8 C117.5,461.2 118.7,459.6 122.8,458.2 C126.9,456.8 136.6,454.8 141,453.6 C145.4,452.4 146.1,451.5 149.1,450.9 C152.1,450.3 156,449.6 159.2,450 C162.4,450.4 166.8,453 168.3,453.6" fill="none"/>
<path d="M135.5,457.3 L142.8,461.8 L153.7,460.9" fill="none"/>
<line x1="151" y1="461.8" x2="153.7" y2="483.7"/>
<ellipse cx="118.4" cy="476.4" rx="6.3" ry="6.8" fill="none"/>
<path d="M117.4,466.1 L118.1,465.5 L118.8,465 L119.6,464.6 L120.4,464.3 L121.2,464.1 L122,464 L122.9,464.1 L123.7,464.2 L124.6,464.4 L125.4,464.7 L126.2,465.2 L126.9,465.7 L127.6,466.3 L128.3,467 L128.9,467.7 L129.4,468.5 L129.8,469.4 L130.2,470.3 L130.5,471.3 L130.7,472.3 L130.8,473.3 L130.8,474.3 L130.8,475.3 L130.6,476.2 L130.4,477.2 L130.1,478.1 L129.7,478.9 L129.2,479.7 L128.6,480.4 L128,481.1 L127.3,481.6 L126.6,482.1 L125.8,482.5 L125,482.7 L124.2,482.9 L123.4,483 L122.5,482.9 L121.7,482.8" fill="none"/>
<path d="M116.4,461.8 C115.9,462.5 113.9,464.6 113.5,466 C113.1,467.4 113.8,469.3 113.8,470" fill="none"/>
<path d="M143.7,493.7 L170.1,484.6" fill="none"/>
<path d="M143.7,493.7 C143.8,495.4 143.7,501 144.6,503.7 C145.5,506.4 147.6,505.8 149.1,510 C150.6,514.2 152.9,526 153.7,529.2" fill="none"/>
<line x1="136.4" y1="494.6" x2="150" y2="510" stroke-width="2"/>
<line x1="148.2" y1="496.4" x2="153.7" y2="504.6"/>
<line x1="161" y1="509.2" x2="173.7" y2="505.5"/>
<ellipse cx="112.3" cy="505" rx="5.8" ry="10" fill="none" transform="rotate(-5 112.3 505)"/>
<path d="M111,500 C110.8,500.8 109.5,503.3 109.5,505 C109.5,506.7 110.8,509.2 111,510" fill="none" stroke-width="2.2"/>
<line x1="118.2" y1="483.7" x2="113.7" y2="521.9"/>
<line x1="120" y1="485.5" x2="133.7" y2="500"/>
<path d="M98.2,500 L103.6,493.7 L114.6,494.6" fill="none"/>
<line x1="98.2" y1="505.5" x2="98.2" y2="512.8"/>
<line x1="101.8" y1="514.6" x2="108.2" y2="513.7"/>
<path d="M102.7,517.3 C104.5,518.2 111,519.6 113.7,522.8 C116.4,526 118.2,534.2 119.1,536.5" fill="none"/>
<path d="M95.5,475.5 L100,478.2 L100.9,481.9" fill="none"/>
<line x1="102.7" y1="484.6" x2="103.6" y2="490"/>
<path d="M104.2,520 C105.7,520.5 110.8,520.3 113.3,523 C115.8,525.7 118.3,533.9 119.3,536.1" fill="none"/>
<line x1="151.5" y1="520" x2="154.5" y2="529"/>
<path d="M159.5,554.2 C159.3,556.9 159.5,565.1 158.5,570.3 C157.5,575.5 155.7,580.4 153.5,585.3 C151.3,590.1 146.8,597 145.4,599.4" fill="none"/>
<line x1="120.3" y1="565.2" x2="129.3" y2="599.4"/>
<line x1="121.3" y1="565.2" x2="139.4" y2="587.3"/>
<line x1="142.4" y1="590.4" x2="144.4" y2="598.4"/>
<line x1="122.3" y1="547.1" x2="119.3" y2="564.2"/>
<path d="M100.2,560.2 C101.5,560.7 105.9,561.9 108.2,563.2 C110.5,564.5 113.1,565 114.3,568.2 C115.5,571.4 116,578.9 115.3,582.3 C114.6,585.6 112,587.8 110.3,588.3 C108.6,588.8 106,585.8 105.2,585.3" fill="none"/>
<path d="M107.2,566.2 C106.9,567.4 105,571.3 105.2,573.3 C105.4,575.3 106.9,577.1 108.2,578.3 C109.5,579.5 112.5,580 113.3,580.3" fill="none" stroke-width="1.8"/>
<line x1="100.2" y1="561.2" x2="100.2" y2="568.2"/>
<line x1="168.3" y1="453.6" x2="271.7" y2="418"/>
<line x1="153.7" y1="467.3" x2="273.2" y2="427.1"/>
<path d="M271.7,417.7 L304.6,409.8 L307.2,417.7 L273.2,427.1" fill="none"/>
<line x1="273.5" y1="417.3" x2="275.1" y2="426.6" stroke-width="1.6"/>
<line x1="277.2" y1="416.4" x2="278.9" y2="425.5" stroke-width="1.6"/>
<line x1="280.8" y1="415.5" x2="282.6" y2="424.5" stroke-width="1.6"/>
<line x1="284.5" y1="414.6" x2="286.4" y2="423.4" stroke-width="1.6"/>
<line x1="288.1" y1="413.8" x2="290.2" y2="422.4" stroke-width="1.6"/>
<line x1="291.8" y1="412.9" x2="294" y2="421.4" stroke-width="1.6"/>
<line x1="295.5" y1="412" x2="297.8" y2="420.3" stroke-width="1.6"/>
<line x1="299.1" y1="411.1" x2="301.5" y2="419.3" stroke-width="1.6"/>
<line x1="302.8" y1="410.2" x2="305.3" y2="418.2" stroke-width="1.6"/>
<line x1="210.8" y1="564.2" x2="259.1" y2="549.6"/>
<line x1="208.7" y1="573.3" x2="260.7" y2="555.9"/>
<path d="M259.1,549.6 L292.1,540.2 L293.6,546.5 L260.7,555.9" fill="none"/>
<line x1="260.9" y1="549.1" x2="262.5" y2="555.4" stroke-width="1.6"/>
<line x1="264.6" y1="548" x2="266.2" y2="554.3" stroke-width="1.6"/>
<line x1="268.3" y1="547" x2="269.8" y2="553.3" stroke-width="1.6"/>
<line x1="271.9" y1="545.9" x2="273.5" y2="552.2" stroke-width="1.6"/>
<line x1="275.6" y1="544.9" x2="277.1" y2="551.2" stroke-width="1.6"/>
<line x1="279.3" y1="543.9" x2="280.8" y2="550.2" stroke-width="1.6"/>
<line x1="282.9" y1="542.8" x2="284.5" y2="549.1" stroke-width="1.6"/>
<line x1="286.6" y1="541.8" x2="288.1" y2="548.1" stroke-width="1.6"/>
<line x1="290.3" y1="540.7" x2="291.8" y2="547" stroke-width="1.6"/>
<ellipse cx="330.5" cy="468.5" rx="32.5" ry="52.5" fill="none" transform="rotate(-12 330.5 468.5)"/>
<path d="M331,417.5 C332.8,417.9 338.1,418.2 341.5,420 C344.9,421.8 348.4,424.7 351.5,428 C354.6,431.3 357.5,435.3 360,440 C362.5,444.7 365,450.7 366.5,456 C368,461.3 368.7,466.3 368.8,472 C368.9,477.7 368.1,484.5 367,490 C365.9,495.5 364.2,500.7 362,505 C359.8,509.3 355.8,513.6 353.5,516 C351.2,518.4 349.3,518.9 348.5,519.5" fill="none"/>
<ellipse cx="331.5" cy="468.5" rx="14" ry="26" fill="none" transform="rotate(-14 331.5 468.5)"/>
<line x1="317.7" y1="459" x2="337.8" y2="454"/>
<line x1="316" y1="461.5" x2="316" y2="466"/>
<path d="M329.5,483 C331.1,482.4 336.4,480.3 339,479.5 C341.6,478.7 344,478.2 345,478" fill="none"/>
<ellipse cx="337" cy="486.5" rx="6.5" ry="5" fill="none" transform="rotate(-20 337 486.5)" stroke-width="1.8"/>
<path d="M316,446 C316.8,445.5 319.2,443.5 321,443 C322.8,442.5 326,443 327,443" fill="none" stroke-width="2"/>
<path d="M302.9,442 L302.9,441.7 L302.8,441.4 L302.8,441.1 L302.8,440.8 L302.8,440.5 L302.9,440.2 L303,439.9 L303.1,439.7 L303.2,439.4 L303.3,439.2 L303.5,439 L303.7,438.8 L303.9,438.6 L304.1,438.5 L304.3,438.4 L304.5,438.3 L304.7,438.2 L305,438.2 L305.2,438.2 L305.4,438.3 L305.6,438.3 L305.9,438.4 L306.1,438.6 L306.3,438.7 L306.4,438.9 L306.6,439.1 L306.8,439.3 L306.9,439.6 L307,439.8 L307.1,440.1 L307.1,440.4 L307.2,440.7 L307.2,441 L307.2,441.3 L307.2,441.6 L307.1,441.9 L307,442.1 L306.9,442.4 L306.8,442.6 L306.6,442.9 L306.5,443.1 L306.3,443.3 L306.1,443.4" fill="none" stroke-width="1.2"/>
<path d="M325.4,437.5 L325.4,437.2 L325.3,436.9 L325.3,436.6 L325.3,436.3 L325.3,436 L325.4,435.7 L325.5,435.4 L325.6,435.2 L325.7,434.9 L325.8,434.7 L326,434.5 L326.2,434.3 L326.4,434.1 L326.6,434 L326.8,433.9 L327,433.8 L327.2,433.7 L327.5,433.7 L327.7,433.7 L327.9,433.8 L328.1,433.8 L328.4,433.9 L328.6,434.1 L328.8,434.2 L328.9,434.4 L329.1,434.6 L329.3,434.8 L329.4,435.1 L329.5,435.3 L329.6,435.6 L329.6,435.9 L329.7,436.2 L329.7,436.5 L329.7,436.8 L329.7,437.1 L329.6,437.4 L329.5,437.6 L329.4,437.9 L329.3,438.1 L329.1,438.4 L329,438.6 L328.8,438.8 L328.6,438.9" fill="none" stroke-width="1.2"/>
<path d="M347.4,453 L347.4,452.7 L347.3,452.4 L347.3,452.1 L347.3,451.8 L347.3,451.5 L347.4,451.2 L347.5,450.9 L347.6,450.7 L347.7,450.4 L347.8,450.2 L348,450 L348.2,449.8 L348.4,449.6 L348.6,449.5 L348.8,449.4 L349,449.3 L349.2,449.2 L349.5,449.2 L349.7,449.2 L349.9,449.3 L350.1,449.3 L350.4,449.4 L350.6,449.6 L350.8,449.7 L350.9,449.9 L351.1,450.1 L351.3,450.3 L351.4,450.6 L351.5,450.8 L351.6,451.1 L351.6,451.4 L351.7,451.7 L351.7,452 L351.7,452.3 L351.7,452.6 L351.6,452.9 L351.5,453.1 L351.4,453.4 L351.3,453.6 L351.1,453.9 L351,454.1 L350.8,454.3 L350.6,454.4" fill="none" stroke-width="1.2"/>
<path d="M307.9,487 L307.9,486.7 L307.8,486.4 L307.8,486.1 L307.8,485.8 L307.8,485.5 L307.9,485.2 L308,484.9 L308.1,484.7 L308.2,484.4 L308.3,484.2 L308.5,484 L308.7,483.8 L308.9,483.6 L309.1,483.5 L309.3,483.4 L309.5,483.3 L309.7,483.2 L310,483.2 L310.2,483.2 L310.4,483.3 L310.6,483.3 L310.9,483.4 L311.1,483.6 L311.3,483.7 L311.4,483.9 L311.6,484.1 L311.8,484.3 L311.9,484.6 L312,484.8 L312.1,485.1 L312.1,485.4 L312.2,485.7 L312.2,486 L312.2,486.3 L312.2,486.6 L312.1,486.9 L312,487.1 L311.9,487.4 L311.8,487.6 L311.6,487.9 L311.5,488.1 L311.3,488.3 L311.1,488.4" fill="none" stroke-width="1.2"/>
<path d="M352.4,497 L352.4,496.7 L352.3,496.4 L352.3,496.1 L352.3,495.8 L352.3,495.5 L352.4,495.2 L352.5,494.9 L352.6,494.7 L352.7,494.4 L352.8,494.2 L353,494 L353.2,493.8 L353.4,493.6 L353.6,493.5 L353.8,493.4 L354,493.3 L354.2,493.2 L354.5,493.2 L354.7,493.2 L354.9,493.3 L355.1,493.3 L355.4,493.4 L355.6,493.6 L355.8,493.7 L355.9,493.9 L356.1,494.1 L356.3,494.3 L356.4,494.6 L356.5,494.8 L356.6,495.1 L356.6,495.4 L356.7,495.7 L356.7,496 L356.7,496.3 L356.7,496.6 L356.6,496.9 L356.5,497.1 L356.4,497.4 L356.3,497.6 L356.1,497.9 L356,498.1 L355.8,498.3 L355.6,498.4" fill="none" stroke-width="1.2"/>
<path d="M330.9,502 L330.9,501.7 L330.8,501.4 L330.8,501.1 L330.8,500.8 L330.8,500.5 L330.9,500.2 L331,499.9 L331.1,499.7 L331.2,499.4 L331.3,499.2 L331.5,499 L331.7,498.8 L331.9,498.6 L332.1,498.5 L332.3,498.4 L332.5,498.3 L332.7,498.2 L333,498.2 L333.2,498.2 L333.4,498.3 L333.6,498.3 L333.9,498.4 L334.1,498.6 L334.3,498.7 L334.4,498.9 L334.6,499.1 L334.8,499.3 L334.9,499.6 L335,499.8 L335.1,500.1 L335.1,500.4 L335.2,500.7 L335.2,501 L335.2,501.3 L335.2,501.6 L335.1,501.9 L335,502.1 L334.9,502.4 L334.8,502.6 L334.6,502.9 L334.5,503.1 L334.3,503.3 L334.1,503.4" fill="none" stroke-width="1.2"/>
<path d="M304,430 L313.3,420 L314,424 L306,432" fill="none"/>
<path d="M336.5,420 L363,411.3 L373.6,422 L369.8,440 L358,444.6" fill="none"/>
<path d="M346,426 L367,419 L373.6,422" fill="none"/>
<path d="M359,429 L355,437 L354,441" fill="none"/>
<path d="M368,470.4 L376.7,468.5 L390,480.4 L386.8,499.2 L376.7,503 L368,495.5" fill="none"/>
<path d="M368,479 L379,488 L390,480.4" fill="none"/>
<line x1="379" y1="488" x2="379" y2="501"/>
<path d="M347.8,514.3 L355,507 L359,510 L370.5,504.3 L371.5,508 L361,516 L350,520" fill="none"/>
<line x1="361.5" y1="470" x2="364" y2="500" stroke-width="1.8"/>
<path d="M797.2,312 C796.4,312.2 793.9,312.7 792.3,313.3 C790.7,313.9 788.5,314.4 787.4,315.7 C786.3,317 785.5,319.1 785.5,321 C785.5,322.9 786.5,325.4 787.4,326.8 C788.3,328.2 789.4,329.1 791,329.2 C792.6,329.3 796.2,327.7 797.2,327.4" fill="none"/>
<path d="M797.2,312 C797.6,311.4 798.1,309.1 799.7,308.3 C801.3,307.5 805,306.5 807,307.1 C809,307.7 810.9,309.5 811.9,312 C812.9,314.5 813.4,319.4 813.2,321.9 C813,324.4 812.1,325.9 810.7,326.8 C809.3,327.7 806.9,327.3 804.6,327.4 C802.4,327.5 798.4,327.4 797.2,327.4" fill="none"/>
<path d="M803.3,313.3 C803.6,314.3 805,317.1 805.2,319.4 C805.4,321.6 804.7,325.6 804.6,326.8" fill="none"/>
<path d="M791,313.3 C791.1,311.2 791.3,304.5 791.7,301 C792.1,297.5 792.4,294.4 793.5,292.4 C794.6,290.3 796.5,289.5 798.4,288.7 C800.2,287.9 802.4,288.1 804.6,287.5 C806.9,286.9 810.7,285.4 811.9,285" fill="none"/>
<path d="M811.9,285 L815.6,281.9 L821.8,281.3 L831.6,280.1" fill="none"/>
<path d="M831.6,280.1 C832.8,280.7 836.5,281.6 839,283.8 C841.5,286.1 844.5,289.7 846.3,293.6 C848.1,297.5 849.3,302.8 850,307.1 C850.7,311.4 851.2,315.3 850.6,319.4 C850,323.5 848.2,328.8 846.3,331.7 C844.4,334.6 840.2,335.8 839,336.6" fill="none"/>
<path d="M797.2,328 C797.8,329 799.1,332.1 800.9,334.1 C802.7,336.2 805.8,338.9 808.2,340.3 C810.7,341.7 812.5,342.9 815.6,342.7 C818.7,342.5 822.8,340 826.7,339 C830.6,338 837,337 839,336.6" fill="none"/>
<line x1="804.6" y1="287.5" x2="815.6" y2="297.3"/>
<line x1="825.4" y1="318.2" x2="825.4" y2="337.8"/>
<path d="M813.2,281.3 C813.8,279.9 815.2,274.9 816.8,272.7 C818.4,270.4 821.1,269.4 823,267.8 C824.9,266.2 826.1,264.1 827.9,262.9 C829.7,261.7 830.5,261.6 834,260.4 C837.5,259.2 844.7,257.1 848.8,255.5 C852.9,253.9 855.7,251.8 858.6,250.6 C861.5,249.4 864.8,248.6 866,248.2" fill="none"/>
<line x1="866" y1="248.2" x2="897.9" y2="234.7"/>
<line x1="897.9" y1="234.7" x2="931.6" y2="226.6"/>
<path d="M824.2,272.7 C825,272.3 827.2,270.7 829.1,270.3 C831,269.9 833.2,269.9 835.3,270.3 C837.3,270.7 840.4,272.3 841.4,272.7" fill="none"/>
<path d="M841.4,269 C842.6,270.2 846.3,273.5 848.8,276.4 C851.2,279.3 854,282.1 856.1,286.2 C858.2,290.3 860.1,296.1 861.1,301 C862.1,305.9 862.5,311.2 862.3,315.7 C862.1,320.2 861,324.3 859.8,328 C858.6,331.7 855.7,336.2 854.9,337.8" fill="none"/>
<path d="M843.9,269 C845.5,270.6 850.4,274.6 853.7,278.9 C857,283.2 861.2,289.5 863.5,294.8 C865.8,300.1 866.8,305.7 867.2,310.8 C867.6,315.9 866.4,321.8 866,325.5 C865.6,329.2 864.9,331.7 864.7,332.9" fill="none"/>
<path d="M846.3,258 C847.9,259.4 853,262.3 856.1,266.6 C859.2,270.9 862.7,278.1 864.7,283.8 C866.8,289.5 868,295.1 868.4,301 C868.8,306.9 868,314.1 867.2,319.4 C866.4,324.7 865.8,328.8 863.5,332.9 C861.2,337 855.3,342.1 853.7,344" fill="none"/>
<line x1="834" y1="307.5" x2="849.5" y2="303.5" stroke-width="1.6"/>
<line x1="834" y1="314.5" x2="849.5" y2="310.5" stroke-width="1.6"/>
<line x1="834" y1="322" x2="849.5" y2="318" stroke-width="1.6"/>
<line x1="834" y1="328.5" x2="849.5" y2="324.5" stroke-width="1.6"/>
<line x1="834" y1="334.5" x2="849.5" y2="330.5" stroke-width="1.6"/>
<line x1="834" y1="340" x2="849.5" y2="336" stroke-width="1.6"/>
<path d="M858.6,251.8 C861.9,253.9 873,259.6 878.3,264.1 C883.6,268.6 887.6,273.8 890.5,278.9 C893.4,284 894.5,289.1 895.5,294.8 C896.5,300.5 896.9,307.2 896.7,313.3 C896.5,319.4 895.2,327.9 894.2,331.7 C893.2,335.5 891.1,335.3 890.5,336" fill="none"/>
<path d="M866,248.2 C867.4,248.8 872.6,250.7 874.6,251.8 C876.6,252.9 877.4,254.5 878,255" fill="none"/>
<path d="M877,312 C876.8,314.2 876.8,321.4 875.8,325.5 C874.8,329.6 871.7,334.8 870.9,336.6" fill="none"/>
<line x1="880.7" y1="288.7" x2="893" y2="285" stroke-width="1.6"/>
<line x1="881.2" y1="296.6" x2="894.5" y2="293" stroke-width="1.6"/>
<line x1="882" y1="304.5" x2="895.5" y2="301" stroke-width="1.6"/>
<line x1="879" y1="314.3" x2="895.5" y2="309.8" stroke-width="1.6"/>
<line x1="877.5" y1="322.5" x2="895" y2="318" stroke-width="1.6"/>
<line x1="876" y1="330" x2="893.5" y2="325.5" stroke-width="1.6"/>
<line x1="874" y1="337.5" x2="891" y2="333" stroke-width="1.6"/>
<path d="M826.7,339 C828.1,339.2 831.3,339.7 835,340.5 C838.7,341.3 844.9,343.4 848.8,344 C852.7,344.6 853.4,345.1 858.6,344 C863.8,342.9 870.3,341 880,337.7 C889.7,334.4 905.8,327.9 916.8,324.2 C927.8,320.5 941.4,317 946.3,315.6" fill="none"/>
<path d="M918,230.9 C920.9,232.7 930.6,237.8 935.3,241.9 C940,246 943.2,250.1 946.3,255.4 C949.4,260.7 952.3,267.1 953.7,273.9 C955.1,280.7 955.5,289.6 954.9,296 C954.3,302.4 951.4,308.7 950,312 C948.6,315.3 946.9,315 946.3,315.6" fill="none"/>
<path d="M931.6,226.6 C932.8,226.7 936.1,225.9 939,227.2 C941.9,228.5 945.1,231.3 948.8,234.6 C952.5,237.9 957.7,242.3 961,246.8 C964.3,251.3 966.8,256.3 968.4,261.6 C970,266.9 970.9,272.7 970.9,278.8 C970.9,284.9 970,293.3 968.4,298.4 C966.8,303.5 964.7,306.6 961,309.5 C957.3,312.4 948.8,314.6 946.3,315.6" fill="none"/>
<line x1="939" y1="270.2" x2="950" y2="267.7" stroke-width="1.6"/>
<line x1="937.7" y1="281.2" x2="948.8" y2="278.8" stroke-width="1.6"/>
<line x1="934" y1="291" x2="950" y2="287.4" stroke-width="1.6"/>
<line x1="927.9" y1="302.1" x2="950" y2="294.7" stroke-width="1.6"/>
<line x1="924.2" y1="310.7" x2="948.8" y2="302.1" stroke-width="1.6"/>
<line x1="916.8" y1="318.1" x2="946.3" y2="309.5" stroke-width="1.6"/>
<line x1="905.8" y1="326.7" x2="943.9" y2="314.4" stroke-width="1.6"/>
<line x1="957.4" y1="262.8" x2="964.7" y2="260.4" stroke-width="1.6"/>
<line x1="959.8" y1="271.4" x2="968.4" y2="269" stroke-width="1.6"/>
<line x1="960" y1="279" x2="969.5" y2="276.5" stroke-width="1.6"/>
<line x1="959.8" y1="288.6" x2="969.6" y2="284.9" stroke-width="1.6"/>
<line x1="957.4" y1="296" x2="968.4" y2="293.5" stroke-width="1.6"/>
<line x1="955" y1="303.3" x2="966" y2="300.9" stroke-width="1.6"/>
<line x1="952.5" y1="309.5" x2="963.5" y2="307" stroke-width="1.6"/>
<path d="M962.3,246.8 L980.7,242.5 L985.6,246.8 L988.7,251.8 L988.7,265.3 L985.6,270.2 L972.1,273.9" fill="none"/>
<line x1="963.5" y1="251.8" x2="983.2" y2="246.8" stroke-width="1.5"/>
<line x1="966" y1="256.7" x2="986.8" y2="251.8" stroke-width="1.5"/>
<line x1="968.4" y1="262.8" x2="988" y2="259" stroke-width="1.5"/>
<line x1="969.6" y1="268.9" x2="988" y2="265.3" stroke-width="1.5"/>
<path d="M1333.8,423.1 C1332.5,424.2 1328.2,427.2 1326,430 C1323.8,432.8 1322.5,435.8 1320.7,440 C1318.9,444.2 1316.7,449.5 1315.4,455 C1314.1,460.5 1313.3,467.9 1313,472.8 C1312.7,477.7 1312.8,480.1 1313.6,484.6 C1314.4,489.1 1316.1,495.1 1317.8,500 C1319.5,504.9 1321.2,509.1 1323.7,514.2 C1326.2,519.3 1329.9,526.2 1333.1,530.7 C1336.2,535.2 1339.2,538.6 1342.6,541.4 C1346,544.2 1349.9,546.1 1353.3,547.3 C1356.7,548.5 1359.8,548.7 1362.7,548.5 C1365.7,548.3 1368.6,547.3 1371,546.1 C1373.4,544.9 1375.3,543.8 1376.9,541.4 C1378.5,539 1379.7,535.5 1380.5,531.9 C1381.3,528.2 1381.5,521.6 1381.7,519.5" fill="none"/>
<path d="M1314.2,455.9 C1315.5,453.9 1319.1,447 1321.8,443.9 C1324.5,440.8 1327.3,438.6 1330.6,437.3 C1333.9,436 1338.2,435.6 1341.5,436.2 C1344.8,436.8 1347.3,438.4 1350.2,440.6 C1353.1,442.8 1356.1,446.2 1359,449.3 C1361.9,452.4 1366.2,457.6 1367.7,459.2" fill="none"/>
<path d="M1320.7,447.2 C1321.8,445.7 1324.8,440.4 1327.3,438.4 C1329.8,436.4 1333.3,435.8 1336,435.2 C1338.7,434.6 1340.6,434.2 1343.7,434.6 C1346.8,435 1351,435.6 1354.6,437.3 C1358.2,439 1362.6,442.6 1365.5,445 C1368.4,447.4 1370.7,449.7 1372,451.5 C1373.3,453.3 1372.9,455.2 1373.1,455.9" fill="none"/>
<path d="M1357.9,452.6 C1357.5,454.7 1356,461.6 1355.6,465 C1355.2,468.4 1355,469.3 1355.6,472.8 C1356.2,476.3 1357.4,481.3 1359.2,485.8 C1361,490.3 1363.5,495.9 1366.3,500 C1369,504.1 1373,507.7 1375.7,510.6 C1378.5,513.6 1381.6,516.5 1382.8,517.7" fill="none"/>
<path d="M1359.2,459.7 C1359.6,462.9 1360.1,473 1361.5,478.7 C1362.9,484.4 1364.9,489.4 1367.5,494.1 C1370.1,498.8 1374,503.8 1376.9,507.1 C1379.9,510.5 1383.8,513 1385.2,514.2" fill="none"/>
<path d="M1366.3,462.1 C1366.7,463.9 1367,468.1 1368.6,472.8 C1370.2,477.5 1372.9,485.2 1375.7,490.5 C1378.5,495.8 1382,501.1 1385.2,504.7 C1388.4,508.2 1393.1,510.6 1394.7,511.8" fill="none"/>
<path d="M1365.5,459.2 L1366.6,463.5 L1376.4,463.5" fill="none"/>
<line x1="1381.7" y1="519.5" x2="1399.4" y2="514.2"/>
<path d="M1332.8,423.1 L1340.4,422 L1342.6,426.4 L1340.4,430.8 L1326.2,434.1 L1324.6,429.7 L1325.1,425.3 L1332.8,423.1" fill="none"/>
<line x1="1333.3" y1="423.5" x2="1334" y2="431.5"/>
<line x1="1337.1" y1="422.8" x2="1338.2" y2="430.5"/>
<path d="M1333.8,423.1 C1334,422.6 1334,421.2 1334.9,419.9 C1335.8,418.6 1337.3,416.6 1339.3,415.5 C1341.3,414.4 1345.5,415.3 1346.9,413.3 C1348.4,411.3 1346.7,406.2 1348,403.5 C1349.3,400.8 1351.7,398.8 1354.6,397 C1357.5,395.2 1363.3,394.4 1365.5,392.6 C1367.7,390.8 1366.6,388.4 1367.7,386 C1368.8,383.6 1370.2,380.2 1372,378.4 C1373.8,376.6 1376.8,377.7 1378.6,375.1 C1380.4,372.6 1381.5,366.2 1383,363.1 C1384.5,360 1386.6,357.7 1387.3,356.6" fill="none"/>
<path d="M1384.6,358.7 C1385.3,358 1387.2,355.6 1389.1,354.7 C1391,353.8 1393.6,353.6 1395.9,353.5 C1398.2,353.4 1400.5,352.9 1402.8,354.1 C1405.1,355.3 1407.7,358.4 1409.6,360.9 C1411.5,363.4 1412.8,365.9 1414.1,368.9 C1415.4,371.9 1416.2,375.1 1417.5,379.1 C1418.8,383.1 1420.6,388.2 1422.1,392.8 C1423.6,397.4 1425.5,403.4 1426.6,406.4 C1427.7,409.4 1428.5,410.2 1428.9,411" fill="none"/>
<ellipse cx="1396.5" cy="375.7" rx="5.3" ry="9.5" fill="none" transform="rotate(-10 1396.5 375.7)"/>
<line x1="1395" y1="372" x2="1397" y2="383" stroke-width="1.8"/>
<path d="M1380,375.7 C1381,376.8 1383.8,380 1385.7,382.5 C1387.6,385 1389.5,388.6 1391.4,390.5 C1393.3,392.4 1395.2,393.9 1397.1,393.9 C1399,393.9 1400.7,391.4 1402.8,390.5 C1404.9,389.6 1407.9,388.2 1409.6,388.2 C1411.3,388.2 1412.4,390.1 1413,390.5" fill="none"/>
<path d="M1380,392.8 C1381.1,393.4 1384.5,395.4 1386.8,396.2 C1389.1,396.9 1391.8,397.7 1393.7,397.3 C1395.6,396.9 1397.3,394.6 1398,394" fill="none"/>
<line x1="1407.3" y1="374.6" x2="1413" y2="388.2"/>
<path d="M1386.8,396.2 C1388.1,399.1 1392.9,408.6 1394.8,413.3 C1396.7,418 1396.5,421.8 1398.2,424.6 C1399.9,427.4 1402,429.2 1405,430.3 C1408,431.4 1414.5,431.3 1416.4,431.5" fill="none"/>
<line x1="1408.4" y1="398.5" x2="1416.4" y2="420.1"/>
<path d="M1348,413.3 C1349.5,412.8 1354.4,410.6 1356.8,410 C1359.2,409.4 1360.8,409.1 1362.2,410 C1363.7,410.9 1364,413.1 1365.5,415.5 C1367,417.9 1368.8,422 1371,424.2 C1373.2,426.4 1376.1,427 1378.6,428.6 C1381.1,430.2 1384.2,432.1 1386.2,434.1 C1388.2,436.1 1389.9,439.5 1390.6,440.6" fill="none"/>
<path d="M1354.6,397 C1356,396.8 1361.7,395.2 1363.3,395.9 C1364.9,396.6 1364.2,400.4 1364.4,401.3" fill="none"/>
<path d="M1365.5,392.6 C1367.3,392.4 1373.5,390.9 1376.4,391.5 C1379.3,392.1 1381.2,394.6 1383,395.9 C1384.8,397.2 1385.8,396.6 1387.3,399.1 C1388.8,401.6 1390.2,407.5 1391.7,411.1 C1393.2,414.8 1394.7,418.5 1396.1,421 C1397.5,423.5 1399.3,425.2 1400,426" fill="none"/>
<path d="M1378.6,375.1 C1379.5,375.8 1382.5,377.5 1384.1,379.5 C1385.7,381.5 1386.8,384.7 1388.4,387.1 C1390,389.5 1393,392.6 1393.9,393.7" fill="none"/>
<path d="M1341.5,426.4 C1342.8,427.1 1346.5,429 1349.1,430.8 C1351.6,432.6 1354.1,434.9 1356.8,437.3 C1359.5,439.7 1364,443.7 1365.5,445" fill="none"/>
<path d="M1375.3,451.5 C1376,450.6 1377.5,447.6 1379.7,446.1 C1381.9,444.7 1385,444.1 1388.4,442.8 C1391.8,441.5 1398.1,439.1 1400,438.4" fill="none"/>
<path d="M1380,446.3 C1381.9,445.5 1385.3,443.8 1391.4,441.7 C1397.5,439.6 1412.2,435 1416.4,433.7" fill="none"/>
<path d="M1380,430.3 C1381.1,431.1 1384.9,432.8 1386.8,434.9 C1388.7,437 1390.6,441.5 1391.4,442.8" fill="none"/>
<path d="M1428.9,411 C1429.9,410.6 1432.1,409.8 1434.6,408.7 C1437.1,407.6 1441,405.1 1443.7,404.2 C1446.4,403.2 1448.2,402.6 1450.5,403 C1452.8,403.4 1455.5,404.7 1457.4,406.4 C1459.3,408.1 1460.8,410.3 1461.9,413.3 C1463,416.3 1463.8,419.9 1464.2,424.6 C1464.6,429.3 1464.4,436 1464.2,441.7 C1464,447.4 1463.7,455.2 1463,458.8 C1462.3,462.4 1459.8,461 1459.9,463.3 C1460,465.6 1462.4,468.6 1463.4,472.7 C1464.4,476.8 1465.6,483.6 1465.8,488.1 C1466,492.7 1465.4,497 1464.6,500 C1463.8,503 1463.1,504.9 1461.1,505.9 C1459.1,506.9 1454.2,505.9 1452.8,505.9" fill="none"/>
<path d="M1428.9,411 C1428,411.4 1424.5,412 1423.2,413.3 C1421.9,414.6 1421.8,416.2 1421,419 C1420.2,421.8 1419.7,426.5 1418.7,430.3 C1417.8,434.1 1416.1,438.5 1415.3,441.7 C1414.5,444.9 1415,447.6 1414.1,449.7 C1413.1,451.8 1410.3,453.4 1409.6,454.2" fill="none"/>
<line x1="1427.8" y1="411" x2="1434.6" y2="416.7"/>
<path d="M1427.8,422.4 C1428.4,422.8 1430.5,423.3 1431.2,424.6 C1431.9,425.9 1431.7,429.4 1431.8,430.3" fill="none"/>
<line x1="1438" y1="429.2" x2="1439.2" y2="458.8"/>
<path d="M1417.5,449.7 C1418.1,448.2 1419.8,442.3 1421,440.6 C1422.2,438.9 1422.5,438.8 1424.4,439.4 C1426.3,440 1430.6,442.9 1432.3,444 C1434,445.1 1434.2,444 1434.6,446.3 C1435,448.6 1434.6,456.1 1434.6,458" fill="none"/>
<line x1="1421" y1="459.9" x2="1431.2" y2="456.5"/>
<line x1="1443.7" y1="462.2" x2="1449.4" y2="459.9"/>
<path d="M1455.1,456.5 C1455.5,457.6 1456.6,461.4 1457.4,463.3 C1458.2,465.2 1459.6,467.2 1460,468" fill="none"/>
<path d="M1433.9,455 C1434.1,458.1 1435.9,470.5 1435.1,473.9 C1434.3,477.2 1431.5,476.3 1429.1,475.1 C1426.7,473.9 1422.3,468.2 1420.9,466.8" fill="none"/>
<path d="M1438.6,457.4 C1438.6,458.6 1437.8,461.4 1438.6,464.5 C1439.4,467.6 1441.4,472.6 1443.3,476.3 C1445.2,480.1 1448.9,485.2 1450,487" fill="none"/>
<path d="M1437.4,478.7 C1438.4,480.7 1442.1,487.6 1443.3,490.5 C1444.5,493.4 1445.1,495.8 1444.5,496.4 C1443.9,497 1440.6,494.4 1439.8,494" fill="none"/>
<ellipse cx="1394" cy="480.5" rx="16.8" ry="30" transform="rotate(-18 1394 480.5)" stroke-width="3.4" stroke-dasharray="1.4,1.8" fill="none"/>
<ellipse cx="1394" cy="480.5" rx="14.8" ry="28" fill="none" transform="rotate(-18 1394 480.5)" stroke-width="1.5"/>
<ellipse cx="1396" cy="482.5" rx="12.5" ry="20.5" fill="none" transform="rotate(-15 1396 482.5)" stroke-width="2.2"/>
<ellipse cx="1391.5" cy="484.6" rx="9.8" ry="9.3" fill="none" stroke-width="2"/>
<line x1="1383" y1="480" x2="1382.9" y2="475.4" stroke-width="1.6"/>
<line x1="1387.5" y1="476.1" x2="1386.2" y2="465.7" stroke-width="1.6"/>
<line x1="1393.5" y1="475.5" x2="1393.3" y2="462.5" stroke-width="1.6"/>
<line x1="1398.8" y1="478.4" x2="1401.4" y2="466.8" stroke-width="1.6"/>
<line x1="1401.2" y1="483.6" x2="1407.5" y2="477.2" stroke-width="1.6"/>
<line x1="1400" y1="489.2" x2="1409.1" y2="489.6" stroke-width="1.6"/>
<line x1="1395.5" y1="493.1" x2="1405.8" y2="499.3" stroke-width="1.6"/>
<line x1="1389.5" y1="493.7" x2="1398.7" y2="502.5" stroke-width="1.6"/>
<line x1="1384.2" y1="490.8" x2="1390.6" y2="498.2" stroke-width="1.6"/>
<line x1="1381.8" y1="485.6" x2="1384.5" y2="487.8" stroke-width="1.6"/>
<path d="M1413.8,478.7 C1416,478.7 1423.6,476.7 1426.8,478.7 C1430,480.7 1432.1,486.2 1432.7,490.5 C1433.3,494.8 1433.3,501.9 1430.3,504.7 C1427.3,507.4 1417.5,506.6 1414.9,507" fill="none"/>
<line x1="1414.5" y1="484.5" x2="1431" y2="480.5" stroke-width="1.5"/>
<line x1="1414.5" y1="489.5" x2="1431" y2="485.5" stroke-width="1.5"/>
<line x1="1414.5" y1="494.5" x2="1431" y2="490.5" stroke-width="1.5"/>
<line x1="1414.5" y1="499.5" x2="1431" y2="495.5" stroke-width="1.5"/>
<line x1="1414.5" y1="504.5" x2="1431" y2="500.5" stroke-width="1.5"/>
<path d="M1381.8,518.9 L1428,514.1 L1428,533.1 L1417.3,537.8 L1405.5,542.5 L1398.4,535.4" fill="none"/>
<path d="M1415,516.5 L1416.1,523.6 L1425.6,530.7" fill="none"/>
<line x1="1393.7" y1="530.7" x2="1412.6" y2="523.6"/>
<line x1="1420.9" y1="541.3" x2="1424.4" y2="542.5"/>
<path d="M1387.7,540.2 C1389.3,539.8 1394.2,536.6 1397.2,537.8 C1400.2,539 1403.1,542.8 1405.5,547.3 C1407.9,551.8 1409.4,561.5 1411.4,565 C1413.4,568.5 1414.3,568.4 1417.3,568.6 C1420.2,568.8 1425.9,567 1429.1,566.2 C1432.2,565.4 1433.8,564.2 1436.2,563.8 C1438.6,563.4 1441.3,563 1443.3,563.8 C1445.3,564.6 1446.1,566.8 1448.1,568.6 C1450.1,570.4 1452.8,572.9 1455.2,574.5 C1457.6,576.1 1459.9,577.8 1462.3,578 C1464.7,578.2 1467.4,577.2 1469.4,575.6 C1471.4,574 1473.1,571.8 1474.1,568.6 C1475.1,565.5 1475.5,560.5 1475.3,556.7 C1475.1,553 1473.9,549.7 1472.9,546.1 C1471.9,542.5 1471,540.3 1469.4,535.4 C1467.8,530.5 1464.8,521.2 1463.4,516.5 C1462,511.8 1461.5,508.6 1461.1,507" fill="none"/>
<path d="M1452.8,507 C1453.2,510.1 1455.2,518.8 1455.2,525.9 C1455.2,533 1453,544.7 1452.8,549.6 C1452.6,554.5 1453.8,554.5 1454,555.5" fill="none"/>
<ellipse cx="1457.5" cy="558.5" rx="4.5" ry="9" fill="none" transform="rotate(-10 1457.5 558.5)"/>
<path d="M1436.2,520 C1437.4,519.8 1441.7,519.9 1443.3,518.9 C1444.9,517.9 1446.3,515.7 1445.7,514.1 C1445.1,512.5 1441.8,509.8 1439.8,509.4 C1437.8,509 1435.1,510.2 1433.9,511.8 C1432.7,513.4 1432.9,517.7 1432.7,518.9" fill="none"/>
<path d="M1451.6,521.2 C1450.6,522.4 1448.3,526.3 1445.7,528.3 C1443.1,530.3 1438.6,531.5 1436.2,533.1 C1433.8,534.7 1433.1,533.9 1431.5,537.8 C1429.9,541.7 1427.6,553.6 1426.8,556.7" fill="none"/>
<path d="M1414.9,552 C1415.7,552.8 1419.1,555.3 1419.7,556.7 C1420.3,558.1 1418.7,559.7 1418.5,560.3" fill="none"/>
<path d="M1381.8,561.5 C1382.4,562.3 1382.8,564.8 1385.4,566.2 C1388,567.6 1394.2,569.9 1397.2,569.7 C1400.2,569.5 1400.9,565.6 1403.1,565 C1405.3,564.4 1409,566 1410.2,566.2" fill="none"/>
<path d="M1432.7,568.6 L1439.8,573.3 L1445.7,570.9" fill="none"/>
<line x1="1467" y1="543.7" x2="1468.2" y2="553.2"/>
<line x1="1455.2" y1="541.3" x2="1463.4" y2="540.2"/>
<path d="M1353.8,555.6 L1363.9,552 L1369.8,553.2 L1371,561.5 L1368.6,565.7 L1355.6,565.1 L1353.8,555.6" fill="none"/>
<line x1="1361.5" y1="553" x2="1362.7" y2="564.5"/>
<line x1="1366.3" y1="552.5" x2="1367.5" y2="565"/>
<path d="M1369.8,565.1 C1372,564.3 1378.6,561.9 1382.8,560.3 C1387,558.7 1392.1,558.4 1394.7,555.6 C1397.3,552.9 1398.2,546.6 1398.2,543.8 C1398.2,541 1396.5,539.6 1394.7,539 C1392.9,538.4 1390,538.8 1387.6,540.2 C1385.2,541.6 1382.9,544.7 1380.5,547.3 C1378.1,549.9 1374.6,554.2 1373.4,555.6" fill="none"/>
<path d="M1382.8,561.5 C1384,562.7 1387,567.4 1389.9,568.6 C1392.8,569.8 1398.3,568.6 1400,568.6" fill="none"/>
<path d="M1373.4,556.8 C1375,554.4 1380.2,547.7 1382.8,542.6 C1385.4,537.5 1386.8,529.5 1388.8,526 C1390.8,522.5 1392.8,522.3 1394.7,521.3 C1396.6,520.3 1399.1,520.2 1400,520" fill="none"/>
<line x1="1370" y1="565" x2="1381.8" y2="561.5"/>
<ellipse cx="1181" cy="550.5" rx="20" ry="33.5" fill="none" transform="rotate(-17 1181 550.5)"/>
<ellipse cx="1181.5" cy="551" rx="16.5" ry="29.5" fill="none" transform="rotate(-17 1181.5 551)" stroke-width="1.1"/>
<ellipse cx="1182" cy="552" rx="13.5" ry="25.5" fill="none" transform="rotate(-17 1182 552)" stroke-width="2.2"/>
<ellipse cx="1182.5" cy="553" rx="10.5" ry="20" fill="none" transform="rotate(-17 1182.5 553)" stroke-width="1.1"/>
<path d="M1173.9,556.9 L1173.7,556 L1173.6,555.2 L1173.5,554.3 L1173.5,553.4 L1173.6,552.5 L1173.7,551.6 L1174,550.7 L1174.2,549.9 L1174.6,549.2 L1175,548.4 L1175.4,547.8 L1175.9,547.2 L1176.4,546.7 L1177,546.3 L1177.6,545.9 L1178.2,545.7 L1178.8,545.6 L1179.5,545.5 L1180.1,545.5 L1180.7,545.7 L1181.3,545.9 L1181.9,546.2 L1182.5,546.6 L1183,547.1 L1183.5,547.7 L1184,548.3 L1184.4,549 L1184.7,549.8 L1185,550.6 L1185.2,551.5 L1185.4,552.3 L1185.5,553.2 L1185.5,554.1 L1185.5,555 L1185.3,555.9 L1185.2,556.8 L1184.9,557.6 L1184.6,558.4 L1184.3,559.2 L1183.9,559.8 L1183.4,560.5 L1182.9,561 L1182.3,561.5 L1181.8,561.9 L1181.2,562.2 L1180.5,562.4" fill="none" stroke-width="1.3"/>
<line x1="1182.6" y1="541.2" x2="1182.5" y2="534.9" stroke-width="1.1"/>
<line x1="1185.4" y1="543.7" x2="1186.8" y2="538.8" stroke-width="1.1"/>
<line x1="1187.9" y1="547.6" x2="1190.5" y2="544.8" stroke-width="1.1"/>
<line x1="1189.6" y1="552.3" x2="1193.1" y2="551.9" stroke-width="1.1"/>
<line x1="1190.2" y1="557" x2="1194.1" y2="559.3" stroke-width="1.1"/>
<line x1="1189.7" y1="561.2" x2="1193.4" y2="565.7" stroke-width="1.1"/>
<line x1="1188.2" y1="564.2" x2="1191.2" y2="570.2" stroke-width="1.1"/>
<line x1="1185.8" y1="565.5" x2="1187.6" y2="572.3" stroke-width="1.1"/>
<line x1="1183" y1="565.1" x2="1183.4" y2="571.5" stroke-width="1.1"/>
<path d="M1180.1,517.4 C1182,517.2 1187.9,515.3 1191.6,516.4 C1195.3,517.5 1198.9,520.2 1202.1,523.7 C1205.2,527.2 1208.2,532.4 1210.5,537.3 C1212.8,542.2 1214.8,547.8 1215.7,553 C1216.6,558.2 1216.6,564.3 1215.7,568.7 C1214.8,573.1 1212.8,576.8 1210.5,579.2 C1208.2,581.7 1205.2,582.4 1202.1,583.4 C1198.9,584.4 1193.3,585.1 1191.6,585.5" fill="none"/>
<path d="M1200,560 C1200.1,562 1201,568.7 1200.5,572 C1200,575.3 1197.6,578.7 1197,580" fill="none" stroke-width="1.1"/>
<path d="M1165.3,523.4 L1165.7,518.7 L1166.5,514.3 L1167.6,510.1 L1169.1,506.3 L1170.8,502.9 L1172.8,499.9 L1175,497.4 L1177.5,495.3 L1180.2,493.8 L1183.1,492.7 L1186.1,492.2 L1189.2,492.2 L1192.3,492.7" fill="none" stroke-width="1.6"/>
<path d="M1215.8,585.7 L1213.1,587.6 L1210.3,588.9 L1207.2,589.7 L1204.1,589.9 L1200.9,589.5 L1197.6,588.6 L1194.3,587.2" fill="none" stroke-width="1.6"/>
<line x1="1165.4" y1="521.8" x2="1168.4" y2="522.7" stroke-width="1.4"/>
<line x1="1165.8" y1="517.9" x2="1168.8" y2="519.1" stroke-width="1.4"/>
<line x1="1166.5" y1="514.3" x2="1169.4" y2="515.7" stroke-width="1.4"/>
<line x1="1167.4" y1="510.8" x2="1170.1" y2="512.5" stroke-width="1.4"/>
<line x1="1168.6" y1="507.6" x2="1171.1" y2="509.5" stroke-width="1.4"/>
<line x1="1169.9" y1="504.6" x2="1172.3" y2="506.7" stroke-width="1.4"/>
<line x1="1171.4" y1="501.9" x2="1173.6" y2="504.2" stroke-width="1.4"/>
<line x1="1173.1" y1="499.5" x2="1175.1" y2="502" stroke-width="1.4"/>
<line x1="1175" y1="497.4" x2="1176.8" y2="500.1" stroke-width="1.4"/>
<line x1="1177.1" y1="495.6" x2="1178.6" y2="498.5" stroke-width="1.4"/>
<line x1="1179.3" y1="494.2" x2="1180.5" y2="497.2" stroke-width="1.4"/>
<line x1="1181.6" y1="493.2" x2="1182.6" y2="496.2" stroke-width="1.4"/>
<line x1="1184" y1="492.5" x2="1184.8" y2="495.6" stroke-width="1.4"/>
<line x1="1186.6" y1="492.1" x2="1187" y2="495.3" stroke-width="1.4"/>
<line x1="1189.2" y1="492.2" x2="1189.3" y2="495.4" stroke-width="1.4"/>
<line x1="1214.9" y1="586.4" x2="1213.4" y2="583.5" stroke-width="1.4"/>
<line x1="1212.7" y1="587.8" x2="1211.5" y2="584.8" stroke-width="1.4"/>
<line x1="1210.4" y1="588.8" x2="1209.4" y2="585.8" stroke-width="1.4"/>
<line x1="1208" y1="589.5" x2="1207.2" y2="586.4" stroke-width="1.4"/>
<line x1="1205.4" y1="589.9" x2="1205" y2="586.7" stroke-width="1.4"/>
<line x1="1202.8" y1="589.8" x2="1202.7" y2="586.6" stroke-width="1.4"/>
<line x1="1200.2" y1="589.4" x2="1200.3" y2="586.2" stroke-width="1.4"/>
<line x1="1197.5" y1="588.6" x2="1197.9" y2="585.4" stroke-width="1.4"/>
<line x1="1194.8" y1="587.4" x2="1195.5" y2="584.3" stroke-width="1.4"/>
<path d="M1168.6,520.5 L1169.3,516 L1170.3,511.9 L1171.7,508.1 L1173.3,504.7 L1175.3,501.8 L1177.5,499.4 L1179.9,497.5 L1182.6,496.2 L1185.4,495.5 L1188.4,495.3" fill="none" stroke-width="1.2"/>
<path d="M1212.3,584.4 L1210.1,585.5 L1207.8,586.3 L1205.4,586.7 L1203,586.6 L1200.5,586.2 L1197.9,585.4" fill="none" stroke-width="1.2"/>
<line x1="1192.3" y1="492.7" x2="1218.3" y2="489.7" stroke-width="1.6"/>
<line x1="1204.9" y1="589.9" x2="1230.9" y2="586.9" stroke-width="1.6"/>
<path d="M1215.2,489.2 L1218.4,489.8 L1221.7,490.9 L1225,492.5 L1228.3,494.7 L1231.5,497.4 L1234.6,500.6 L1237.5,504.1 L1240.3,508.1 L1242.8,512.4 L1245.1,517 L1247.2,521.8 L1249,526.9 L1250.4,532 L1251.5,537.2 L1252.3,542.5 L1252.8,547.6 L1252.8,552.7 L1252.6,557.6 L1252,562.3 L1251,566.7 L1249.7,570.7 L1248.1,574.4 L1246.2,577.7 L1244,580.5 L1241.6,582.9 L1238.9,584.7 L1236,586 L1233,586.7 L1229.9,586.9" fill="none" stroke-width="1.5"/>
<line x1="1194.5" y1="493.4" x2="1216.2" y2="487.8" stroke-width="1.8"/>
<line x1="1216.2" y1="487.8" x2="1218" y2="488.1" stroke-width="1.4"/>
<line x1="1198.2" y1="495.1" x2="1220" y2="488.7" stroke-width="1.8"/>
<line x1="1220" y1="488.7" x2="1221.8" y2="489.3" stroke-width="1.4"/>
<line x1="1201.8" y1="497.4" x2="1223.8" y2="490.3" stroke-width="1.8"/>
<line x1="1223.8" y1="490.3" x2="1225.6" y2="491.2" stroke-width="1.4"/>
<line x1="1205.3" y1="500.3" x2="1227.6" y2="492.5" stroke-width="1.8"/>
<line x1="1227.6" y1="492.5" x2="1229.4" y2="493.8" stroke-width="1.4"/>
<line x1="1208.7" y1="503.8" x2="1231.4" y2="495.4" stroke-width="1.8"/>
<line x1="1231.4" y1="495.4" x2="1233.1" y2="496.9" stroke-width="1.4"/>
<line x1="1212" y1="507.8" x2="1235" y2="498.8" stroke-width="1.8"/>
<line x1="1235" y1="498.8" x2="1236.6" y2="500.7" stroke-width="1.4"/>
<line x1="1215" y1="512.2" x2="1238.4" y2="502.9" stroke-width="1.8"/>
<line x1="1238.4" y1="502.9" x2="1239.9" y2="504.9" stroke-width="1.4"/>
<line x1="1217.7" y1="517.1" x2="1241.6" y2="507.4" stroke-width="1.8"/>
<line x1="1241.6" y1="507.4" x2="1243" y2="509.7" stroke-width="1.4"/>
<line x1="1220.2" y1="522.3" x2="1244.5" y2="512.3" stroke-width="1.8"/>
<line x1="1244.5" y1="512.3" x2="1245.7" y2="514.8" stroke-width="1.4"/>
<line x1="1222.3" y1="527.8" x2="1247.1" y2="517.7" stroke-width="1.8"/>
<line x1="1247.1" y1="517.7" x2="1248.2" y2="520.3" stroke-width="1.4"/>
<line x1="1224" y1="533.5" x2="1249.3" y2="523.3" stroke-width="1.8"/>
<line x1="1249.3" y1="523.3" x2="1250.2" y2="526" stroke-width="1.4"/>
<line x1="1225.3" y1="539.3" x2="1251.2" y2="529.1" stroke-width="1.8"/>
<line x1="1251.2" y1="529.1" x2="1251.9" y2="531.8" stroke-width="1.4"/>
<line x1="1226.3" y1="545.1" x2="1252.6" y2="535" stroke-width="1.8"/>
<line x1="1252.6" y1="535" x2="1253.2" y2="537.8" stroke-width="1.4"/>
<line x1="1226.8" y1="550.8" x2="1253.6" y2="541" stroke-width="1.8"/>
<line x1="1253.6" y1="541" x2="1254" y2="543.8" stroke-width="1.4"/>
<line x1="1226.8" y1="556.4" x2="1254.2" y2="546.9" stroke-width="1.8"/>
<line x1="1254.2" y1="546.9" x2="1254.3" y2="549.7" stroke-width="1.4"/>
<line x1="1226.5" y1="561.8" x2="1254.3" y2="552.7" stroke-width="1.8"/>
<line x1="1254.3" y1="552.7" x2="1254.2" y2="555.4" stroke-width="1.4"/>
<line x1="1225.7" y1="566.9" x2="1254" y2="558.3" stroke-width="1.8"/>
<line x1="1254" y1="558.3" x2="1253.7" y2="560.9" stroke-width="1.4"/>
<line x1="1224.4" y1="571.6" x2="1253.2" y2="563.6" stroke-width="1.8"/>
<line x1="1253.2" y1="563.6" x2="1252.7" y2="566" stroke-width="1.4"/>
<line x1="1222.8" y1="575.9" x2="1252" y2="568.6" stroke-width="1.8"/>
<line x1="1252" y1="568.6" x2="1251.2" y2="570.8" stroke-width="1.4"/>
<line x1="1220.8" y1="579.7" x2="1250.3" y2="573.1" stroke-width="1.8"/>
<line x1="1250.3" y1="573.1" x2="1249.4" y2="575.1" stroke-width="1.4"/>
<line x1="1218.5" y1="583" x2="1248.3" y2="577.1" stroke-width="1.8"/>
<line x1="1248.3" y1="577.1" x2="1247.2" y2="578.8" stroke-width="1.4"/>
<line x1="1215.8" y1="585.6" x2="1245.9" y2="580.6" stroke-width="1.8"/>
<line x1="1245.9" y1="580.6" x2="1244.6" y2="582" stroke-width="1.4"/>
<line x1="1212.9" y1="587.7" x2="1243.1" y2="583.5" stroke-width="1.8"/>
<line x1="1243.1" y1="583.5" x2="1241.7" y2="584.6" stroke-width="1.4"/>
<line x1="1209.7" y1="589.1" x2="1240.1" y2="585.7" stroke-width="1.8"/>
<line x1="1240.1" y1="585.7" x2="1238.5" y2="586.6" stroke-width="1.4"/>
<line x1="1206.3" y1="589.8" x2="1236.8" y2="587.3" stroke-width="1.8"/>
<line x1="1236.8" y1="587.3" x2="1235.1" y2="587.8" stroke-width="1.4"/>
<path d="M1234,492.9 C1235.9,492.5 1241.9,490.7 1245.3,490.7 C1248.7,490.7 1251,489.1 1254.4,492.9 C1257.8,496.7 1262.7,506.1 1265.7,513.3 C1268.7,520.5 1271.4,529.3 1272.5,535.9 C1273.6,542.5 1272.9,548.5 1272.5,552.8 C1272.1,557.1 1272.3,559.2 1270.2,561.9 C1268.1,564.5 1263.5,566.7 1260,568.7 C1256.5,570.7 1250.8,573.1 1249,574" fill="none"/>
<path d="M1236.3,495.2 C1238.4,497.3 1245.3,501.8 1248.7,507.6 C1252.1,513.4 1254.9,522.7 1256.6,530.2 C1258.3,537.7 1258.9,546.6 1258.9,552.8 C1258.9,559 1258.4,563 1256.6,567.5 C1254.8,572 1249.4,577.9 1248,580" fill="none"/>
<path d="M1257.8,492.9 C1260.4,492.1 1269.3,488.8 1273.6,488.4 C1277.9,488 1282.1,490.3 1283.8,490.7" fill="none"/>
<path d="M1283.8,490.7 L1292.8,496.3 L1303,499.7" fill="none"/>
<ellipse cx="1299.5" cy="514.5" rx="8" ry="17" fill="none" transform="rotate(-12 1299.5 514.5)"/>
<path d="M1298.5,531.4 L1298.5,541.5 L1277,552.8 L1270,556" fill="none"/>
<line x1="1269.1" y1="505.4" x2="1292.8" y2="499.7" stroke-width="1.5"/>
<line x1="1272.5" y1="513.3" x2="1297.5" y2="508" stroke-width="1.5"/>
<line x1="1274.7" y1="522.3" x2="1299.6" y2="516.7" stroke-width="1.5"/>
<line x1="1275.9" y1="530.2" x2="1297.4" y2="525" stroke-width="1.5"/>
<line x1="1277" y1="538.1" x2="1298.5" y2="534.8" stroke-width="1.5"/>
<path d="M754.6,574.6 L753.9,564 L756,560.9 L766.9,558.2 L781.9,556.1 L784.6,562.3 L788.1,567.8 L787.4,571.8 L775.1,575.3 L756,579.4 L753.9,575.3" fill="none"/>
<line x1="754.6" y1="574.6" x2="786" y2="567.8"/>
<line x1="756" y1="562" x2="784" y2="561"/>
<line x1="770" y1="566.5" x2="770.5" y2="572"/>
<path d="M768.9,597.1 L767.6,586.2 L781.2,584.8 L781.9,595.1" fill="none"/>
<line x1="768" y1="590.5" x2="781.5" y2="589"/>
<line x1="768.5" y1="594" x2="781.7" y2="592.5"/>
<path d="M764.2,614.2 L763.5,601.9 L768.9,597.1 L781.9,595.1 L790.1,595.1 L792.2,607.4" fill="none"/>
<line x1="778" y1="606" x2="778.5" y2="612"/>
<path d="M760.1,616.9 C761.8,616.2 765.9,614.1 770,613 C774.1,611.9 780,610.7 785,610 C790,609.3 797.2,608.9 799.7,608.7" fill="none"/>
<path d="M760.1,616.9 C760.2,617.8 760,620.4 760.5,622 C761,623.6 759.5,626 762.8,626.5 C766,627 773.6,625.7 780,625 C786.4,624.3 797.5,624.1 801,622.4 C804.5,620.7 801.2,617.3 801,615 C800.8,612.7 799.9,609.8 799.7,608.7" fill="none"/>
<line x1="764.2" y1="614.2" x2="792.2" y2="607.4"/>
<path d="M728.7,631.9 C729.8,631.6 732.7,630.5 735,630 C737.3,629.5 738.1,629.5 742.3,629.2 C746.5,629 754.5,628.7 760,628.5 C765.5,628.3 769.8,628.1 775,628 C780.2,627.9 788.8,627.8 791.5,627.8" fill="none"/>
<line x1="799.7" y1="612.8" x2="844.7" y2="598.5"/>
<line x1="844.7" y1="598.5" x2="861.7" y2="593.3"/>
<path d="M728.7,631.9 C728.4,634.2 727.3,638.8 726.6,645.6 C725.9,652.4 725.1,667.6 724.6,672.9 C724.1,678.2 723.9,674.3 723.9,677.3 C723.9,680.3 723.4,686 724.6,691 C725.9,696 728.9,702.3 731.4,707.3 C733.9,712.3 736.4,715.1 739.6,721 C742.8,726.9 747.8,738.7 750.5,742.8 C753.2,746.9 755.1,745.1 756,745.6" fill="none"/>
<line x1="756" y1="745.6" x2="805.1" y2="745.6"/>
<line x1="736.8" y1="646.3" x2="764.2" y2="645.6"/>
<line x1="739.6" y1="648.3" x2="739.6" y2="670.2"/>
<line x1="734.1" y1="660.6" x2="736.8" y2="670.2"/>
<path d="M750.5,716.9 C748.7,716.5 742.6,716.2 739.6,714.2 C736.6,712.2 734.3,708.9 732.7,704.6 C731.1,700.3 730,692.8 730,688.2 C730,683.7 731.8,679.6 732.7,677.3 C733.6,675 733,675.5 735.5,674.6 C738,673.7 744.4,671.6 747.8,671.8 C751.2,672 753.5,673.2 756,675.9 C758.5,678.6 761.2,683.9 762.8,688.2 C764.4,692.5 765.5,697.8 765.5,701.9 C765.5,706 763.2,711 762.8,712.8" fill="none"/>
<path d="M756,651.1 C755.5,652.5 754.8,656.2 753.2,659.2 C751.6,662.2 749.1,666.3 746.4,668.8 C743.7,671.3 738.4,673.4 736.8,674.3" fill="none"/>
<path d="M760.1,658.2 C762.1,659.1 768.9,661 772.3,663.7 C775.7,666.4 778.5,670.1 780.5,674.6 C782.5,679.1 784.1,685.5 784.6,691 C785.1,696.5 784.2,703.2 783.3,707.3 C782.4,711.4 779.9,714.1 779.2,715.5" fill="none"/>
<path d="M751.9,715.5 C755.3,716 767.5,716.9 772.3,718.3 C777.1,719.7 779.1,722.8 780.5,723.7" fill="none"/>
<line x1="751.9" y1="723.7" x2="757.3" y2="731.9"/>
<line x1="736.8" y1="714.2" x2="750.5" y2="742.8"/>
<ellipse cx="771.7" cy="645.6" rx="7.2" ry="8" fill="none"/>
<ellipse cx="794.2" cy="733.3" rx="8.5" ry="9.5" fill="none"/>
<path d="M795.2,721.7 L796.3,721.5 L797.4,721.5 L798.5,721.6 L799.6,721.9 L800.7,722.2 L801.7,722.7 L802.7,723.3 L803.6,724.1 L804.4,724.9 L805.2,725.8 L805.8,726.8 L806.4,727.9 L806.8,729 L807.2,730.2 L807.4,731.4 L807.5,732.6 L807.5,733.8 L807.3,735.1 L807.1,736.3 L806.7,737.4 L806.2,738.5 L805.6,739.6 L804.9,740.5 L804.1,741.4 L803.3,742.2 L802.4,742.9 L801.4,743.5 L800.3,743.9 L799.2,744.2 L798.1,744.4 L797,744.5" fill="none"/>
<path d="M773.7,631.9 C775.3,632.1 780.3,632.4 783.3,633.3 C786.3,634.2 789.7,635.3 791.5,637.4 C793.3,639.5 793.8,642.9 794.2,645.6 C794.7,648.3 795.6,651.8 794.2,653.8 C792.8,655.8 787.4,657.2 786,657.9" fill="none"/>
<path d="M779.2,633.3 C780.1,634.2 783.5,636.8 784.6,638.8 C785.7,640.8 785.8,644.5 786,645.6" fill="none"/>
<path d="M786,656.8 C786.9,661.3 789.7,676.1 791.5,684.1 C793.3,692.1 795.1,698.9 796.9,704.6 C798.7,710.3 800.3,716 802.4,718.3 C804.5,720.6 807.4,716 809.2,718.3 C811,720.6 812.8,727.8 813.3,731.9 C813.8,736 813.6,740.3 812,742.8 C810.4,745.3 805.1,746.3 803.7,747" fill="none"/>
<path d="M775.1,653.8 C776.2,657.7 780.1,670 781.9,677.3 C783.7,684.6 784.6,690.1 786,697.8 C787.4,705.5 789.4,719.4 790.1,723.7" fill="none"/>
<line x1="788.7" y1="686.9" x2="796.9" y2="712.8"/>
<line x1="801" y1="622.4" x2="861.7" y2="603"/>
<line x1="795.6" y1="645.6" x2="889.5" y2="614.1"/>
<line x1="796.9" y1="674.6" x2="895.7" y2="642"/>
<line x1="796.9" y1="697.8" x2="898.8" y2="665.2"/>
<line x1="810.6" y1="723.7" x2="905" y2="691.5"/>
<line x1="813.3" y1="737.4" x2="912.7" y2="705.4"/>
<line x1="912.7" y1="705.4" x2="926.6" y2="705.4"/>
<path d="M860.1,592.5 C860.5,592.2 861.9,594.5 862.4,590.9 C862.9,587.3 861.8,574.9 863.2,570.8 C864.6,566.7 867,567.6 870.9,566.2 C874.8,564.8 882.8,562.6 886.4,562.3 C890,562 890.8,562.9 892.6,564.6 C894.4,566.3 895.7,569.3 897.2,572.4 C898.8,575.5 899.6,580.4 901.9,583.2 C904.2,586 909.7,588.4 911.2,589.4" fill="none"/>
<path d="M868,575 C868.7,575.5 871.3,576.7 872,578 C872.7,579.3 872,582.2 872,583" fill="none"/>
<line x1="879.5" y1="583" x2="889" y2="596"/>
<path d="M891,595.6 C891.5,597.4 892.8,599.5 894.1,606.4 C895.4,613.3 897,627 898.8,637.3 C900.6,647.6 902.9,658.8 905,668.3 C907.1,677.8 909.9,688.4 911.2,694.6 C912.5,700.8 912.5,703.6 912.7,705.4" fill="none"/>
<path d="M895.7,603.3 L900.3,601.8 L901.9,625 L897.2,625 L895.7,603.3" fill="none"/>
<path d="M908.1,676 L912.5,676 L922,699.2 L914.2,699.2" fill="none"/>
<path d="M910.9,590 C912.4,589 916.6,585.6 920,584 C923.4,582.4 927.2,581.3 931.4,580.5 C935.6,579.7 940,578 945,579.1 C950,580.2 956.1,583.6 961.4,587.3 C966.6,590.9 972,596.2 976.5,601 C981,605.8 985.1,610.1 988.7,616 C992.3,621.9 996.1,629.6 998.3,636.4 C1000.5,643.2 1001.5,650.1 1001.7,656.9 C1001.9,663.7 1001,671 999.7,677.4 C998.5,683.8 996.7,690 994.2,695.2 C991.7,700.4 988.3,704.9 984.7,708.8 C981.1,712.7 977,716.6 972.4,718.4 C967.8,720.2 961.9,720.2 957.3,719.7 C952.7,719.2 949.1,717.7 945,715.6 C940.9,713.5 936.9,710.8 932.8,707.4 C928.7,704 924,699.8 920.5,695.2 C917,690.6 913.4,682.5 912,680" fill="none"/>
<path d="M913.7,592.7 C916.4,592.2 924.8,590.2 930,590 C935.2,589.8 940.5,590 945,591.4 C949.5,592.8 953.4,595.2 957.3,598.2 C961.2,601.2 965.1,604.3 968.3,609.1 C971.5,613.9 974.2,620.1 976.5,626.9 C978.8,633.7 980.8,642.8 981.9,650.1 C983,657.4 983.8,664.5 983.3,670.6 C982.8,676.8 981.2,682 979.2,687 C977.2,692 974.4,697.4 971,700.6 C967.6,703.8 963,705.4 958.7,706.1 C954.4,706.8 949.3,706.1 945,704.7 C940.7,703.3 936.7,701.3 932.8,697.9 C928.9,694.5 925,689.2 921.8,684.2 C918.6,679.2 916,674.2 913.7,667.8 C911.4,661.4 909.6,652.8 908.2,646 C906.8,639.2 905.5,633.5 905.5,626.9 C905.5,620.3 906.8,612.1 908.2,606.4 C909.6,600.7 912.8,595 913.7,592.7" fill="none"/>
<path d="M960.1,606.4 C961.9,608.9 968,615.7 971,621.4 C974,627.1 976.3,633.4 977.8,640.5 C979.3,647.6 980,656.5 980,663.8 C980,671.1 978.3,680.8 978,684.2" fill="none" stroke-width="1.3"/>
<line x1="998" y1="655" x2="997.5" y2="672"/>
<line x1="986.5" y1="688" x2="983" y2="710"/>
<path d="M935.5,625.5 C936,624.6 935.9,621.2 938.2,620.1 C940.5,619 945.8,618 949.2,618.7 C952.6,619.4 955.8,621.5 958.7,624.2 C961.7,626.9 964.9,631 966.9,635.1 C968.9,639.2 970.3,643.7 971,648.7 C971.7,653.7 971.7,661 971,665.1 C970.3,669.2 969.2,671.5 966.9,673.3 C964.6,675.1 960.7,676 957.3,676 C953.9,676 949.3,675.1 946.4,673.3 C943.5,671.5 941.6,668.7 939.6,665.1 C937.6,661.5 935.2,656.3 934.1,651.5 C933,646.7 932.6,640.7 932.8,636.4 C933,632.1 935,627.3 935.5,625.5" fill="none"/>
<ellipse cx="960.3" cy="647.5" rx="10.5" ry="24" fill="none" transform="rotate(-12 960.3 647.5)" stroke-width="1.5"/>
<path d="M957.4,629.9 L958,629.5 L958.7,629.3 L959.4,629.3 L960.1,629.5 L960.9,629.9 L961.6,630.5 L962.4,631.2 L963.1,632.1 L963.9,633.1 L964.6,634.3 L965.3,635.6 L966,637 L966.6,638.5 L967.1,640.1 L967.6,641.8 L968.1,643.5 L968.5,645.2 L968.8,647 L969,648.7 L969.2,650.4 L969.3,652.1 L969.3,653.7 L969.2,655.2 L969,656.6 L968.8,657.9 L968.5,659 L968.1,660 L967.7,660.9 L967.2,661.6 L966.6,662.1" fill="none" stroke-width="1.3"/>
<path d="M934.1,620.1 C933.6,621 933.5,624.1 931.4,625.5 C929.3,626.9 923.4,625.9 921.8,628.2 C920.2,630.5 920.9,636.5 921.8,639.2 C922.7,641.9 925.5,643.5 927.3,644.6 C929.1,645.7 931.4,644.6 932.8,646 C934.2,647.4 934.4,649.2 935.5,652.8 C936.6,656.4 938.2,663 939.6,667.8 C941,672.6 943.2,677.9 943.7,681.5 C944.2,685.1 943.1,688.8 942.3,689.7 C941.5,690.6 939.5,687.5 939,687" fill="none"/>
<path d="M938.2,595.5 C938.4,597.3 938.7,603.2 939.6,606.4 C940.5,609.6 943,613.2 943.7,614.6" fill="none"/>
<path d="M946.4,598.2 C946.6,599.8 946.9,605.8 947.8,607.8 C948.7,609.8 949.8,610.5 951.9,610.5 C954,610.5 958.7,608.2 960.1,607.8" fill="none"/>
<line x1="976.5" y1="663.8" x2="981.9" y2="667.8"/>
<line x1="975.1" y1="670.6" x2="979.5" y2="673.5"/>
<line x1="947.8" y1="677.4" x2="945" y2="693.8"/>
<path d="M954.6,676 L964.2,678.8 L965.5,697.9" fill="none"/>
<line x1="950.5" y1="697.9" x2="965.5" y2="700.5"/>
<path d="M916.4,621.4 C917.1,618.7 918.5,609.5 920.5,605 C922.5,600.5 927.3,595.9 928.7,594.1" fill="none"/>
<path d="M920.5,648.7 C921.6,652.4 924.6,664.2 927.3,670.6 C930,677 934.4,683.8 936.9,687 C939.4,690.2 941.1,689.5 942,690" fill="none"/>
<path d="M910.9,665.1 C912,667.8 915,676.5 917.7,681.5 C920.4,686.5 923.6,691.1 927.3,695.2 C930.9,699.3 937.5,704.3 939.6,706.1" fill="none"/>
<path d="M892.6,713.1 C893.6,714.9 895.4,722.5 898.8,724 C902.1,725.5 908.1,723.7 912.7,722.4 C917.3,721.1 924,718.5 926.6,716.2 C929.2,713.9 927.9,709.8 928.2,708.5" fill="none"/>
<line x1="899" y1="712" x2="902" y2="720"/>
<line x1="926.5" y1="707" x2="927" y2="716"/>
<path d="M769.6,760.6 C770.5,760.1 771.5,759 775.1,757.9 C778.8,756.8 787,754.7 791.5,753.8 C796,752.9 799.7,751.7 802.4,752.4 C805.1,753.1 806.4,754.5 807.8,757.9 C809.2,761.3 809.9,768.1 810.6,772.9 C811.3,777.7 813.3,783.8 811.9,786.5 C810.5,789.2 806.3,788.1 802.4,789.3 C798.5,790.4 793,792.7 788.7,793.4 C784.4,794.1 779.6,796.1 776.4,793.4 C773.2,790.7 770.7,782.5 769.6,777 C768.5,771.5 769.6,763.3 769.6,760.6" fill="none"/>
<path d="M773.7,763.3 C775.1,763.3 780.1,762.1 781.9,763.3 C783.7,764.4 783.9,766.3 784.6,770.2 C785.3,774.1 786,782.9 786,786.5 C786,790.1 784.8,791.1 784.6,792" fill="none"/>
<line x1="790.1" y1="768.8" x2="810.6" y2="763.3"/>
<line x1="791.5" y1="781.1" x2="810.6" y2="774.3"/>
<line x1="779.2" y1="785.2" x2="786" y2="786.5"/>
<line x1="791.5" y1="745.6" x2="792.8" y2="751"/>
<path d="M829.7,734.7 L842,731.9 L844.7,742.8 L833.8,748.3" fill="none"/>
<path d="M829.7,734.7 C830.1,737.2 831.1,744.8 832,750 C832.9,755.2 834.7,763.4 835.2,766.1" fill="none"/>
<path d="M835.2,766.1 L821.5,768.8 L816,777 L814.7,786.5" fill="none"/>
<path d="M816,780 L826,777 L827,787.9 L818.8,790.6" fill="none"/>
<line x1="817" y1="784" x2="826" y2="781.5"/>
</g>
</svg>
</body></html>
